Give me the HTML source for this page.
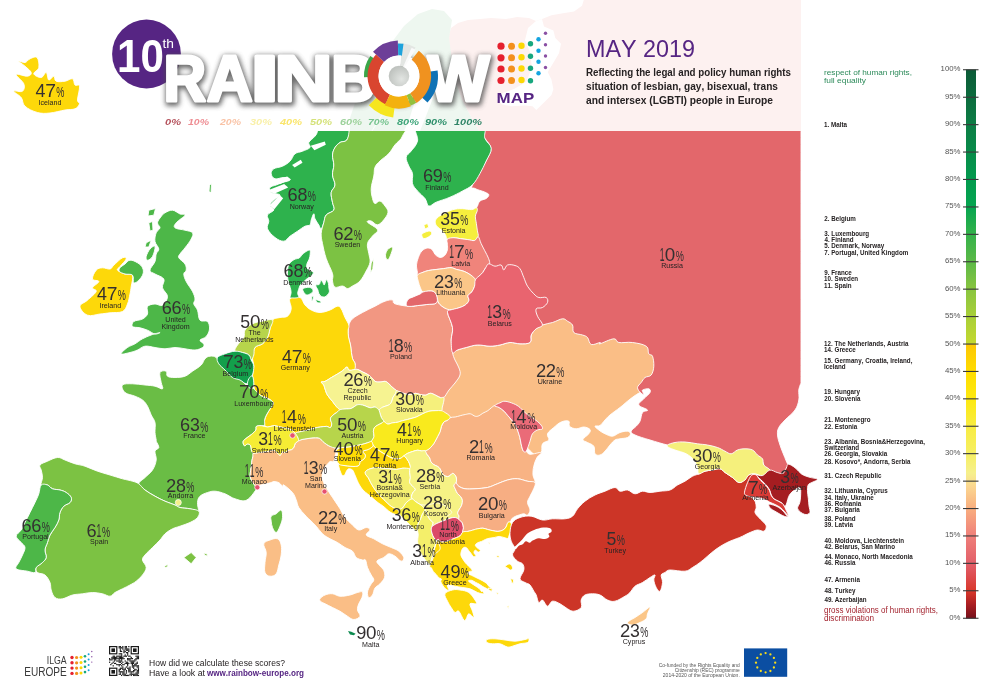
<!DOCTYPE html>
<html lang="en"><head><meta charset="utf-8"><title>Rainbow Europe Map May 2019</title>
<style>html,body{margin:0;padding:0;background:#fff}svg{display:block}text{font-family:"Liberation Sans", sans-serif;font-kerning:none}</style>
</head><body>
<svg width="988" height="695" viewBox="0 0 988 695">
<defs>
<linearGradient id="sc" x1="0" y1="0" x2="0" y2="1">
<stop offset="0" stop-color="#0c5a37"/>
<stop offset="0.1" stop-color="#0d7d45"/>
<stop offset="0.2" stop-color="#039a4e"/>
<stop offset="0.25" stop-color="#06a550"/>
<stop offset="0.3" stop-color="#34b24a"/>
<stop offset="0.35" stop-color="#5cb947"/>
<stop offset="0.4" stop-color="#89c540"/>
<stop offset="0.45" stop-color="#a9cf38"/>
<stop offset="0.499" stop-color="#c3d82f"/>
<stop offset="0.501" stop-color="#fcc705"/>
<stop offset="0.55" stop-color="#ffdc00"/>
<stop offset="0.6" stop-color="#fde910"/>
<stop offset="0.65" stop-color="#f8ec42"/>
<stop offset="0.7" stop-color="#f6ef63"/>
<stop offset="0.735" stop-color="#f6f08c"/>
<stop offset="0.76" stop-color="#fbd690"/>
<stop offset="0.8" stop-color="#f9ae7f"/>
<stop offset="0.85" stop-color="#ef7f7a"/>
<stop offset="0.9" stop-color="#e25f69"/>
<stop offset="0.925" stop-color="#dd4a4c"/>
<stop offset="0.95" stop-color="#d9382b"/>
<stop offset="0.975" stop-color="#a91e22"/>
<stop offset="1" stop-color="#74101a"/>
</linearGradient>
<radialGradient id="hole" cx="0.62" cy="0.65" r="0.75"><stop offset="0" stop-color="#e2e5e2"/><stop offset="1" stop-color="#b9bdb9"/></radialGradient>
<filter id="sh" x="-10%" y="-30%" width="120%" height="160%"><feGaussianBlur stdDeviation="2.6"/></filter>
<clipPath id="mapclip"><path d="M0 0 H120 V131 H988 V695 H0 Z"/></clipPath>
</defs>
<rect x="447" y="0" width="354" height="131" fill="#fdf1f0"/>
<path d="M447 0 L583.8 0 L582 5.7 L574 11.4 L563 13.3 L551.5 15.2 L542 19 L536 21 L529 18 L517 17 L506 19 L491 18 L480 19 L468 20 L458 23 L451 28 L448 38 L452 60 L455 80 L462 100 L470 115 L479 131 L447 131 Z" fill="#ffffff"/>
<path d="M542 19 L544 26.6 L553.4 30.4 L555.3 38 L561 43.7 L559 53.2 L553.4 62.7 L547.7 72 L551.5 79.7 L553.4 89.2 L551.5 95 L544 102.5 L536.3 110 L532.5 106.3 L525 105.4 L511.6 106.3 L502 104.4 L496.5 98.7 L503 93 L514 89 L526 82 L532 68 L530 52 L525 40 L528 28 L536 21 Z" fill="#ffffff"/>
<path d="M350 131 L350 118 L356 100 L368 82 L380 62 L392 42 L404 26 L418 14 L432 9 L444 11 L452 20 L449 38 L452 60 L455 80 L462 100 L470 115 L479 131 Z" fill="#eef7f0"/>
<path d="M404 131 L409 120 L414 104 L416 86 L419 66 L426 54 L434 60 L437 78 L433 98 L426 116 L420 131 Z" fill="#ffffff"/>
<path d="M392 42 L400 50 L404 66 L400 84 L392 100 L380 118 L372 131" fill="none" stroke="#ffffff" stroke-width="0.8"/>
<g clip-path="url(#mapclip)" stroke="#ffffff" stroke-width="0.9" stroke-linejoin="round">
<path d="M479 120 C479.0 120.0 801.0 120.0 801 120 C801.0 120.0 801.0 383.0 801 383 C801.0 383.0 799.2 386.9 798.8 390 C798.4 393.1 799.5 396.3 798.8 400 C798.1 403.7 797.5 406.3 795 410 C792.5 413.7 788.0 416.8 785 420 C782.0 423.2 780.2 424.8 778.8 427.5 C777.4 430.2 777.3 431.8 777.5 435 C777.7 438.2 778.8 441.3 780 445 C781.2 448.7 782.4 451.6 783.8 455 C785.2 458.4 786.6 462.2 787.5 463.8 C788.4 465.4 788.8 462.6 788.75 463.75 C788.7 464.9 788.6 467.6 787 470 C785.4 472.4 783.1 475.9 780 477 C776.9 478.1 773.3 476.9 770 476 C766.7 475.1 763.1 473.5 762 472 C760.9 470.5 763.7 469.9 763.8 468 C763.9 466.1 763.7 463.6 762.5 461.8 C761.3 460.0 759.3 459.6 757.5 458 C755.7 456.4 754.8 454.1 752.5 453 C750.2 451.9 747.8 451.8 745 451.8 C742.2 451.8 740.0 452.1 737.5 453 C735.0 453.9 733.5 456.6 731.2 456.8 C728.9 457.0 727.5 455.4 725 454.2 C722.5 453.0 720.7 451.6 717.5 450.5 C714.3 449.4 711.2 448.7 707.5 448 C703.8 447.3 701.6 447.4 697.5 446.8 C693.4 446.2 689.1 445.2 685 445 C680.9 444.8 678.2 445.5 675 445.5 C671.8 445.5 672.1 446.0 667.5 445 C662.9 444.0 656.0 441.8 650 440 C644.0 438.2 638.4 436.6 635 435 C631.6 433.4 631.0 432.8 631.2 431.2 C631.4 429.6 634.6 428.0 636.2 426.2 C637.8 424.4 638.8 423.7 640 421.2 C641.2 418.7 641.1 414.6 642.5 412.5 C643.9 410.4 648.2 411.4 647.5 410 C646.8 408.6 639.5 407.1 638.8 405 C638.1 402.9 641.7 401.1 643.8 398.8 C645.9 396.5 649.1 394.3 650 392.5 C650.9 390.7 650.2 389.3 648.8 388.8 C647.4 388.3 644.1 389.3 642.5 390 C640.9 390.7 647.8 398.0 640 392.5 C632.2 387.0 618.3 371.5 600 360 C581.7 348.5 558.3 341.0 540 330 C521.7 319.0 512.8 309.2 500 300 C487.2 290.8 475.5 291.0 470 280 C464.5 269.0 468.9 252.9 470 240 C471.1 227.1 474.8 216.0 476.2 209.8 C477.6 203.6 476.8 207.6 477.5 206 C478.2 204.4 478.4 202.4 480 201 C481.6 199.6 484.6 199.6 486.2 198.5 C487.8 197.4 489.0 196.0 488.8 194.8 C488.6 193.6 487.5 193.4 485 192.2 C482.5 191.0 477.3 189.9 475 188.5 C472.7 187.1 470.5 189.8 472.5 184.8 C474.5 179.8 482.6 167.7 486 161 C489.4 154.3 491.2 152.6 491 148.5 C490.8 144.4 486.8 141.7 485 138.5 C483.2 135.3 482.1 134.4 481 131 C479.9 127.6 479.0 120.0 479 120 Z" fill="#e3676b"/>
<path d="M452.5 352.5 C453.9 350.7 455.0 350.9 457.5 350 C460.0 349.1 462.5 348.4 466.2 347.5 C469.9 346.6 473.1 345.2 477.5 345 C481.9 344.8 485.9 346.2 490 346.2 C494.1 346.2 496.3 345.7 500 345 C503.7 344.3 506.3 342.7 510 342.5 C513.7 342.3 516.3 343.8 520 343.8 C523.7 343.8 527.9 344.1 530 342.5 C532.1 340.9 530.1 337.5 531.2 335 C532.3 332.5 534.1 330.6 536.2 328.8 C538.3 327.0 539.5 326.2 542.5 325 C545.5 323.8 548.8 323.6 552.5 322.5 C556.2 321.4 559.8 319.0 562.5 318.8 C565.2 318.6 565.7 320.1 567.5 321.2 C569.3 322.3 571.3 322.9 572.5 325 C573.7 327.1 572.0 330.7 573.8 332.5 C575.6 334.3 580.0 334.1 582.5 335 C585.0 335.9 585.9 335.8 587.5 337.5 C589.1 339.2 588.9 343.6 591.2 344.5 C593.5 345.4 598.4 342.6 600 342.5 C601.6 342.4 597.5 344.5 600 343.8 C602.5 343.1 610.4 339.0 613.8 338.8 C617.2 338.6 615.4 341.8 618.8 342.5 C622.2 343.2 627.5 341.8 632.5 342.5 C637.5 343.2 643.2 344.1 646.2 346.2 C649.2 348.3 647.6 352.0 648.8 353.8 C650.0 355.6 651.6 353.9 652.5 356.2 C653.4 358.5 654.0 362.8 653.8 366.2 C653.6 369.6 652.8 372.9 651.2 375 C649.6 377.1 646.8 376.1 645 377.5 C643.2 378.9 642.6 380.7 641.2 382.5 C639.8 384.3 637.7 385.7 637.5 387.5 C637.3 389.3 639.5 391.6 640 392.5 C640.5 393.4 640.9 391.9 640 392.5 C639.1 393.1 637.3 393.9 635 395.5 C632.7 397.1 630.2 399.0 627.5 401.2 C624.8 403.4 623.2 405.0 620 407.5 C616.8 410.0 612.8 412.7 610 415 C607.2 417.3 606.8 418.1 605 420 C603.2 421.9 601.8 424.4 600 425.5 C598.2 426.6 595.2 425.4 595 426.2 C594.8 427.0 597.0 428.6 598.8 430 C600.6 431.4 602.5 432.7 605 433.8 C607.5 434.9 609.8 436.4 612.5 436.2 C615.2 436.0 617.2 433.4 620 432.5 C622.8 431.6 625.6 431.0 627.5 431.2 C629.4 431.4 630.5 432.6 630.5 433.8 C630.5 435.0 629.4 436.6 627.5 437.5 C625.6 438.4 622.3 438.3 620 438.8 C617.7 439.3 616.8 438.9 615 440 C613.2 441.1 611.8 442.9 610 445 C608.2 447.1 606.8 449.4 605 451.2 C603.2 453.0 601.8 454.5 600 455 C598.2 455.5 596.1 455.4 595 453.8 C593.9 452.2 595.2 448.3 593.8 446.2 C592.4 444.1 589.5 443.7 587.5 442.5 C585.5 441.3 582.8 441.1 583 439.5 C583.2 437.9 587.5 435.6 588.8 433.8 C590.1 432.0 590.9 430.7 590 429.5 C589.1 428.3 586.3 427.1 583.8 427 C581.3 426.9 578.8 428.9 576.2 428.8 C573.6 428.7 570.9 427.6 569.5 426.2 C568.1 424.8 570.3 422.0 568.8 421.2 C567.3 420.4 564.0 420.8 561.2 422 C558.5 423.2 556.3 425.3 553.8 427.5 C551.3 429.7 548.4 431.5 547.5 433.8 C546.6 436.1 549.7 438.2 548.8 440 C547.9 441.8 543.9 441.5 542.5 443.8 C541.1 446.1 542.6 450.4 541.2 452.5 C539.8 454.6 538.9 457.3 535 455 C531.1 452.7 526.4 446.4 520 440 C513.6 433.6 509.2 422.8 500 420 C490.8 417.2 479.5 425.0 470 425 C460.5 425.0 453.5 423.7 448 420 C442.5 416.3 440.2 410.5 440 405 C439.8 399.5 445.2 395.5 447 390 C448.8 384.5 449.4 380.5 450 375 C450.6 369.5 449.5 364.1 450 360 C450.5 355.9 451.1 354.3 452.5 352.5 Z" fill="#fabe86"/>
<path d="M450.2 417.6 C451.6 417.0 453.4 417.3 455.2 417 C457.0 416.7 458.3 416.2 460.2 415.7 C462.1 415.2 463.4 414.8 465.3 414.5 C467.2 414.2 468.5 413.5 470.3 413.8 C472.1 414.1 473.7 416.0 475.3 416.3 C476.9 416.6 477.7 416.3 479.1 415.7 C480.5 415.1 481.2 414.1 482.8 413.2 C484.4 412.3 486.2 411.7 487.8 410.7 C489.4 409.7 490.3 408.4 491.6 407.5 C492.9 406.6 493.4 405.7 494.8 405.7 C496.2 405.7 497.4 406.5 499.1 407.5 C500.8 408.5 502.6 409.8 504.2 411.3 C505.8 412.8 506.5 414.1 507.9 415.7 C509.3 417.3 510.3 418.4 511.7 420.1 C513.1 421.8 514.3 423.0 515.5 425.1 C516.7 427.2 517.2 429.1 518 431.4 C518.8 433.7 519.3 435.4 519.9 437.7 C520.5 440.0 520.6 441.8 521.1 443.9 C521.6 446.0 521.9 447.6 522.4 449 C522.9 450.4 523.2 451.1 523.9 451.5 C524.6 451.9 525.1 450.7 526.25 451.25 C527.4 451.8 527.2 454.0 530 454.25 C532.8 454.5 540.0 451.9 541.25 452.5 C542.5 453.1 538.4 455.0 537 457.5 C535.6 460.0 534.5 463.0 533.75 466.25 C533.0 469.5 532.8 472.0 533 475 C533.2 478.0 536.0 481.4 535 482.5 C534.0 483.6 530.7 481.9 527.5 481.25 C524.3 480.6 521.2 479.0 517.5 478.75 C513.8 478.5 511.2 479.1 507.5 480 C503.8 480.9 501.2 482.4 497.5 483.75 C493.8 485.1 491.6 486.6 487.5 487.5 C483.4 488.4 479.1 488.5 475 488.75 C470.9 489.0 468.0 489.2 465 488.75 C462.0 488.3 460.4 487.3 458.75 486.25 C457.1 485.2 456.4 484.3 456 483 C455.6 481.7 456.6 480.5 456.5 479.1 C456.4 477.7 455.9 476.3 455.2 475.3 C454.5 474.3 453.6 473.4 452.7 473.4 C451.8 473.4 451.1 474.7 450.2 475.3 C449.3 475.9 448.9 476.6 447.7 476.6 C446.5 476.6 445.1 476.1 443.9 475.3 C442.7 474.5 442.1 473.4 441.4 472.2 C440.7 471.0 440.9 470.0 440.2 469 C439.5 468.0 438.9 467.3 437.7 466.5 C436.5 465.7 435.2 465.6 433.9 464.7 C432.6 463.8 431.5 462.8 430.7 461.5 C429.9 460.2 430.2 459.0 429.5 457.7 C428.8 456.4 427.8 455.8 427 454.6 C426.2 453.4 424.8 451.9 425.1 450.9 C425.4 449.9 427.5 450.0 428.9 449 C430.3 448.0 431.5 446.6 432.6 445.2 C433.7 443.8 434.2 443.0 435.1 441.4 C436.0 439.8 436.8 438.2 437.7 436.4 C438.6 434.6 439.5 433.2 440.2 431.4 C440.9 429.6 440.7 428.1 441.4 426.4 C442.1 424.7 442.7 423.2 443.9 422 C445.1 420.8 446.5 420.9 447.7 420.1 C448.9 419.3 448.8 418.2 450.2 417.6 Z" fill="#f8b384"/>
<path d="M348.8 325 C349.6 322.9 350.0 321.1 352.5 318.8 C355.0 316.5 358.4 314.8 362.5 312.5 C366.6 310.2 370.9 308.3 375 306.2 C379.1 304.1 381.8 302.3 385 301.2 C388.2 300.1 390.7 299.5 392.5 300 C394.3 300.5 391.8 302.6 395 303.8 C398.2 305.0 405.8 306.1 409.9 306.4 C414.0 306.7 414.3 305.9 417.4 305.6 C420.5 305.3 423.4 304.9 426.8 304.5 C430.2 304.1 434.2 304.5 436.1 303.2 C438.0 301.9 436.6 297.6 437.1 297.6 C437.6 297.6 437.5 301.3 438.9 303.2 C440.3 305.1 442.4 306.7 444.6 307.9 C446.8 309.1 450.6 309.0 451.1 309.8 C451.6 310.6 447.2 309.3 447.5 312.5 C447.8 315.7 451.8 322.5 452.5 327.5 C453.2 332.5 451.2 335.4 451.2 340 C451.2 344.6 451.8 348.8 452.5 352.5 C453.2 356.2 453.8 357.2 455 360 C456.2 362.8 458.1 365.2 459 368 C459.9 370.8 460.7 372.2 460 375 C459.3 377.8 457.0 380.2 455 383 C453.0 385.8 451.0 387.3 449 390 C447.0 392.7 445.5 396.1 443.9 397.5 C442.3 398.9 442.0 398.1 440.5 397.7 C439.0 397.3 437.4 396.0 435.5 395.2 C433.6 394.4 432.3 393.3 430.4 393.3 C428.5 393.3 427.2 395.0 425.4 395.2 C423.6 395.4 422.2 394.9 420.4 394.6 C418.6 394.3 417.2 393.3 415.4 393.3 C413.6 393.3 412.3 394.5 410.4 394.6 C408.5 394.7 407.2 394.4 405.3 393.9 C403.4 393.4 401.9 392.7 400.3 392.1 C398.7 391.5 398.0 391.6 396.6 390.8 C395.2 390.0 394.2 389.0 392.8 387.7 C391.4 386.4 390.4 385.1 389 383.9 C387.6 382.7 386.9 381.7 385.3 381.4 C383.7 381.1 382.1 382.0 380.2 382 C378.3 382.0 376.8 382.2 375.2 381.4 C373.6 380.6 372.9 378.9 371.5 377.6 C370.1 376.3 369.3 375.5 367.7 374.5 C366.1 373.5 364.5 372.9 362.7 372 C360.9 371.1 359.2 370.0 357.7 369.5 C356.2 369.0 355.0 370.5 354.5 369.5 C354.0 368.5 355.4 365.8 355.1 363.8 C354.8 361.8 353.3 360.9 352.6 358.8 C351.9 356.7 351.8 355.0 351.4 352.5 C351.0 350.0 351.0 347.8 350.5 345 C350.0 342.2 348.9 339.8 348.5 337 C348.1 334.2 348.1 332.2 348.2 330 C348.3 327.8 348.0 327.1 348.8 325 Z" fill="#f29782"/>
<path d="M290 298.8 C291.6 296.7 297.2 296.4 300 297.5 C302.8 298.6 302.9 302.7 305 305 C307.1 307.3 308.4 308.6 311.2 310 C313.9 311.4 316.6 312.5 320 312.5 C323.4 312.5 326.8 311.2 330 310 C333.2 308.8 335.4 306.4 337.5 306.2 C339.6 306.0 339.8 306.7 341.2 308.8 C342.6 310.9 343.6 314.5 345 317.5 C346.4 320.5 348.2 322.7 348.8 325 C349.4 327.3 348.3 327.8 348.2 330 C348.1 332.2 348.1 334.2 348.5 337 C348.9 339.8 350.0 342.2 350.5 345 C351.0 347.8 351.0 350.0 351.4 352.5 C351.8 355.0 351.9 356.7 352.6 358.8 C353.3 360.9 354.8 361.8 355.1 363.8 C355.4 365.8 355.6 368.3 354.5 369.5 C353.4 370.7 350.3 370.6 348.9 370.1 C347.5 369.6 348.2 366.9 347 367 C345.8 367.1 344.3 369.4 342.6 370.7 C340.9 372.0 339.7 372.6 337.6 373.9 C335.5 375.2 333.6 376.2 331.3 377.6 C329.0 379.0 326.8 380.6 325 381.4 C323.2 382.2 321.5 381.3 321.3 382 C321.1 382.7 323.1 383.9 323.8 385.2 C324.5 386.5 324.3 387.1 325 388.9 C325.7 390.7 326.1 392.9 327.5 395.2 C328.9 397.5 331.0 399.4 332.6 401.5 C334.2 403.6 334.9 405.0 336.3 406.5 C337.7 408.0 340.0 408.5 340.1 409.6 C340.2 410.7 338.0 411.5 336.7 412.5 C335.4 413.5 334.2 413.9 333 415.1 C331.8 416.3 330.6 417.2 330.4 418.8 C330.2 420.4 331.7 422.2 331.7 423.8 C331.7 425.4 331.3 427.1 330.4 427.6 C329.5 428.1 328.5 426.5 326.7 426.4 C324.9 426.3 322.7 426.7 320.4 427 C318.1 427.3 316.4 427.6 314.1 428.2 C311.8 428.8 310.1 429.5 307.8 430.1 C305.5 430.7 303.9 430.8 301.6 431.4 C299.3 432.0 297.2 433.5 295.3 433.3 C293.4 433.1 293.1 431.0 291.5 430.1 C289.9 429.2 288.6 428.8 286.5 428.2 C284.4 427.6 282.5 427.5 280.2 427 C277.9 426.5 276.3 425.7 274 425.7 C271.7 425.7 269.4 427.1 267.7 427 C266.0 426.9 265.2 426.4 264.6 425.1 C264.0 423.8 264.3 421.9 264.6 420.1 C264.9 418.3 265.4 417.2 266.4 415.1 C267.4 413.0 269.0 410.7 270.2 408.8 C271.4 406.9 272.3 406.3 272.7 405 C273.1 403.7 273.7 402.9 272.5 401.5 C271.3 400.1 269.2 398.9 266.2 397.5 C263.2 396.1 258.5 396.1 256.2 393.8 C253.9 391.5 254.5 388.4 253.8 385 C253.1 381.6 252.5 378.4 252.5 375 C252.5 371.6 253.8 369.4 253.8 366.2 C253.8 363.0 252.3 360.9 252.5 357.5 C252.7 354.1 253.2 350.0 255 347.5 C256.8 345.0 260.2 345.6 262.5 343.8 C264.8 342.0 266.1 340.2 267.5 337.5 C268.9 334.8 269.1 332.0 270 328.8 C270.9 325.6 270.7 322.1 272.5 320 C274.3 317.9 277.2 318.2 280 317.5 C282.8 316.8 285.4 317.8 287.5 316.2 C289.6 314.6 290.7 312.0 291.2 308.8 C291.7 305.6 288.4 300.9 290 298.8 Z" fill="#fdd80a"/>
<path d="M205 358.8 C206.6 357.2 207.9 356.4 210 356.2 C212.1 356.0 214.4 356.1 216.2 357.5 C218.0 358.9 218.4 361.5 220 363.8 C221.6 366.1 222.7 367.7 225 370 C227.3 372.3 229.8 374.6 232.5 376.2 C235.2 377.8 237.5 377.2 240 378.8 C242.5 380.4 243.9 383.4 246.2 385 C248.5 386.6 250.0 385.7 252.5 387.5 C255.0 389.3 257.2 392.9 260 395 C262.8 397.1 265.2 397.6 267.5 398.8 C269.8 400.0 271.5 400.4 272.5 401.5 C273.5 402.6 273.1 403.7 272.7 405 C272.3 406.3 271.4 406.9 270.2 408.8 C269.0 410.7 267.4 413.0 266.4 415.1 C265.4 417.2 264.9 418.3 264.6 420.1 C264.3 421.9 265.2 424.1 264.6 425.1 C264.0 426.1 262.9 425.5 261.4 425.7 C259.9 425.9 257.4 425.6 256.4 426.4 C255.4 427.2 256.7 428.6 255.8 430.1 C254.9 431.6 253.0 433.1 251.4 434.5 C249.8 435.9 248.5 436.4 247 437.7 C245.5 439.0 243.7 439.9 243.2 441.4 C242.7 442.9 243.7 445.3 244.5 445.8 C245.3 446.3 246.5 443.9 247.6 443.9 C248.7 443.9 250.0 444.6 250.7 445.8 C251.4 447.0 250.9 448.8 251.4 450.2 C251.9 451.6 253.0 452.1 253.3 453.3 C253.6 454.5 253.1 455.2 252.9 456.5 C252.7 457.8 252.3 458.6 252 460.2 C251.7 461.8 251.6 463.4 251.4 465.3 C251.2 467.2 250.9 468.5 250.7 470.3 C250.5 472.1 250.0 473.5 250.1 475.3 C250.2 477.1 250.7 478.7 251.4 480.3 C252.1 481.9 253.0 482.9 253.9 484.1 C254.8 485.3 255.7 486.0 256.4 486.6 C257.1 487.2 259.3 485.0 257.5 487.5 C255.7 490.0 250.9 497.9 246.8 500 C242.7 502.1 239.0 499.9 235 498.8 C231.0 497.7 228.7 495.2 225 493.8 C221.3 492.4 218.2 491.4 215 491.2 C211.8 491.0 210.2 491.6 207.5 492.5 C204.8 493.4 201.8 494.4 200 496.2 C198.2 498.0 197.7 499.8 197.5 502.5 C197.3 505.2 198.6 509.6 198.8 511.2 C199.0 512.8 200.4 511.6 198.8 511.2 C197.2 510.8 193.4 509.5 190 508.8 C186.6 508.1 182.8 508.2 180 507.5 C177.2 506.8 177.8 506.2 175 505 C172.2 503.8 168.7 502.8 165 501.2 C161.3 499.6 158.7 498.3 155 496.2 C151.3 494.1 148.0 492.3 145 490 C142.0 487.7 138.8 486.1 138.8 483.8 C138.8 481.5 142.5 480.0 145 477.5 C147.5 475.0 150.4 473.2 152.5 470 C154.6 466.8 155.7 463.4 156.2 460 C156.7 456.6 154.5 453.5 155 451.2 C155.5 448.9 158.6 449.3 158.8 447.5 C159.0 445.7 156.7 442.6 156.2 441.2 C155.7 439.8 156.4 441.6 156.2 440 C156.0 438.4 155.2 435.7 155 432.5 C154.8 429.3 155.7 425.7 155 422.5 C154.3 419.3 152.6 418.0 151.2 415 C149.8 412.0 149.1 408.9 147.5 406.2 C145.9 403.4 144.8 401.8 142.5 400 C140.2 398.2 138.2 397.6 135 396.2 C131.8 394.8 127.3 394.6 125 392.5 C122.7 390.4 121.1 386.6 122.5 385 C123.9 383.4 128.4 383.8 132.5 383.8 C136.6 383.8 140.9 384.6 145 385 C149.1 385.4 151.8 385.5 155 386.2 C158.2 386.9 161.4 389.5 162.5 388.8 C163.6 388.1 161.7 385.5 161.2 382.5 C160.7 379.5 159.1 374.6 160 372.5 C160.9 370.4 164.8 370.5 166.2 371.2 C167.6 371.9 165.9 375.0 167.5 376.2 C169.1 377.4 171.8 377.5 175 377.5 C178.2 377.5 181.8 377.4 185 376.2 C188.2 375.0 189.5 373.3 192.5 371.2 C195.5 369.1 198.9 367.3 201.2 365 C203.5 362.7 203.4 360.4 205 358.8 Z" fill="#6abd45"/>
<path d="M256.4 486.6 C257.8 486.7 258.9 485.4 261.4 484.7 C263.9 484.0 267.9 483.4 270.2 482.8 C272.5 482.2 272.4 481.6 274 481.6 C275.6 481.6 277.4 481.9 279 482.8 C280.6 483.7 281.9 486.2 282.8 486.6 C283.7 487.0 282.0 483.9 283.8 485 C285.6 486.1 290.2 489.8 292.5 492.5 C294.8 495.2 295.0 497.2 296.2 500 C297.4 502.8 297.2 504.8 298.8 507.5 C300.4 510.2 302.9 512.7 305 515 C307.1 517.3 307.9 517.9 310 520 C312.1 522.1 313.9 523.7 316.2 526.2 C318.5 528.7 320.0 531.5 322.5 533.8 C325.0 536.1 327.2 537.2 330 538.8 C332.8 540.4 334.8 540.9 337.5 542.5 C340.2 544.1 342.2 545.9 345 547.5 C347.8 549.1 350.4 549.4 352.5 551.2 C354.6 553.0 354.4 555.9 356.2 557.5 C358.0 559.1 360.8 559.5 362.5 560 C364.2 560.5 364.6 558.6 365.5 560 C366.4 561.4 366.5 564.8 367.5 567.5 C368.5 570.2 370.0 572.7 371.2 575 C372.4 577.3 373.9 578.2 373.8 580 C373.7 581.8 371.7 582.8 370.5 585 C369.3 587.2 367.8 589.7 367.5 592 C367.2 594.3 367.9 597.0 368.8 597.5 C369.7 598.0 371.4 596.7 372.5 595 C373.6 593.3 373.6 590.1 375 588 C376.4 585.9 378.3 585.7 380 583.8 C381.7 581.9 383.8 579.9 384.5 577.5 C385.2 575.1 384.7 572.7 383.8 570.5 C382.9 568.3 380.7 567.2 379.5 565.5 C378.3 563.8 376.2 562.5 377 561 C377.8 559.5 381.6 558.8 383.8 557.5 C386.0 556.2 386.7 554.0 388.8 553.8 C390.9 553.6 392.7 554.8 395 556.2 C397.3 557.6 399.6 561.0 401.2 561.2 C402.8 561.4 404.2 559.3 403.8 557.5 C403.4 555.7 401.1 553.0 398.8 551.2 C396.5 549.4 394.2 548.9 391.2 547.5 C388.2 546.1 385.7 545.4 382.5 543.8 C379.3 542.2 376.8 540.4 373.8 538.8 C370.8 537.2 366.9 536.6 366.2 535 C365.5 533.4 370.0 531.4 370 530 C370.0 528.6 368.3 527.5 366.2 527.5 C364.1 527.5 361.3 530.5 358.8 530 C356.3 529.5 355.0 527.3 352.5 525 C350.0 522.7 347.3 520.5 345 517.5 C342.7 514.5 341.8 511.8 340 508.8 C338.2 505.8 336.8 503.9 335 501.2 C333.2 498.4 331.6 496.3 330 493.8 C328.4 491.3 327.1 488.7 326.2 487.5 C325.3 486.3 325.5 488.1 325.1 487.2 C324.7 486.3 324.4 484.5 323.8 482.8 C323.2 481.1 322.2 479.6 322 477.8 C321.8 476.0 322.1 474.6 322.6 472.8 C323.1 471.0 323.6 469.4 324.5 467.8 C325.4 466.2 326.6 465.2 327.6 464 C328.6 462.8 328.9 462.1 330.1 461.5 C331.3 460.9 332.7 463.0 333.9 460.9 C335.1 458.8 335.7 451.5 336.4 450.2 C337.1 448.9 337.7 452.4 337.7 454 C337.7 455.6 336.2 457.2 336.4 459 C336.6 460.8 339.2 466.0 338.9 464 C338.6 462.0 336.6 451.2 335 448 C333.4 444.8 331.9 447.1 330.4 446.5 C328.9 445.9 328.1 445.4 326.7 444.5 C325.3 443.6 324.1 442.5 322.8 441.4 C321.5 440.3 321.1 439.0 319.5 438.3 C317.9 437.6 316.1 437.8 314 437.8 C311.9 437.8 310.2 438.2 308 438.5 C305.8 438.8 303.8 439.1 302 439.5 C300.2 439.9 299.6 440.1 298.4 440.8 C297.2 441.5 296.1 442.1 295.3 443.3 C294.5 444.5 294.7 445.9 294 447.1 C293.3 448.3 292.6 449.0 291.5 449.6 C290.4 450.2 288.9 449.6 287.8 450.2 C286.7 450.8 286.2 452.5 285.3 452.7 C284.4 452.9 283.7 451.0 282.8 451.5 C281.9 452.0 281.2 455.0 280.2 455.2 C279.2 455.4 278.2 453.6 277.1 452.7 C276.0 451.8 275.3 450.5 274 450.2 C272.7 449.9 271.6 450.6 270.2 450.8 C268.8 451.0 268.0 451.3 266.4 451.5 C264.8 451.7 263.0 451.9 261.4 452.1 C259.8 452.3 259.2 452.5 257.7 452.7 C256.2 452.9 254.2 452.6 253.3 453.3 C252.4 454.0 253.1 455.2 252.9 456.5 C252.7 457.8 252.3 458.6 252 460.2 C251.7 461.8 251.6 463.4 251.4 465.3 C251.2 467.2 250.9 468.5 250.7 470.3 C250.5 472.1 250.0 473.5 250.1 475.3 C250.2 477.1 250.7 478.7 251.4 480.3 C252.1 481.9 253.0 482.9 253.9 484.1 C254.8 485.3 255.0 486.5 256.4 486.6 Z" fill="#fabe86"/>
<path d="M18.8 61.2 C18.8 60.5 22.9 62.9 25 62.5 C27.1 62.1 27.8 59.7 30 58.8 C32.2 57.9 35.4 55.9 37 57.5 C38.6 59.1 39.4 64.5 38.8 67.5 C38.2 70.5 33.4 72.0 33.8 73.8 C34.2 75.6 38.9 77.7 41.2 77.5 C43.5 77.3 44.8 72.0 46.2 72.5 C47.6 73.0 47.4 79.3 48.8 80 C50.2 80.7 52.4 76.0 53.8 76.2 C55.2 76.4 54.1 80.3 56.2 81.2 C58.3 82.1 62.0 81.6 65 81.2 C68.0 80.8 70.7 78.1 72.5 78.8 C74.3 79.5 73.7 83.6 75 85 C76.3 86.4 79.0 83.5 79.5 86.2 C80.0 89.0 77.5 96.8 77.5 100 C77.5 103.2 80.0 102.2 79.5 103.8 C79.0 105.4 77.7 107.7 75 108.8 C72.3 109.9 69.6 109.2 65 110 C60.4 110.8 55.0 112.5 50 113 C45.0 113.5 42.1 113.7 37.5 112.5 C32.9 111.3 28.0 109.0 25 106.2 C22.0 103.5 23.3 100.2 21.2 97.5 C19.1 94.8 13.6 92.4 13.8 91.2 C14.0 90.0 20.7 92.6 22.5 91.2 C24.3 89.8 25.0 86.9 23.8 83.8 C22.6 80.7 15.5 75.9 16.2 74.5 C16.9 73.1 24.8 76.6 27.5 76.2 C30.2 75.8 31.7 74.3 31.2 72.5 C30.7 70.7 27.3 68.3 25 66.2 C22.7 64.1 18.8 61.9 18.8 61.2 Z" fill="#fdd80a"/>
<path d="M113.8 265.2 C116.1 263.1 120.2 258.9 122.5 257.8 C124.8 256.7 126.7 257.4 126.2 259 C125.7 260.6 121.6 264.4 120 266.5 C118.4 268.6 116.6 268.8 117.5 270.2 C118.4 271.6 122.2 273.1 125 274 C127.8 274.9 131.4 272.9 132.5 275.2 C133.6 277.5 131.7 283.1 131.2 286.5 C130.7 289.9 130.7 290.8 130 294 C129.3 297.2 128.9 300.8 127.5 304 C126.1 307.2 125.7 309.9 122.5 311.5 C119.3 313.1 114.1 312.3 110 312.8 C105.9 313.3 104.1 313.6 100 314 C95.9 314.4 91.2 316.6 87.5 315.2 C83.8 313.8 80.0 309.2 80 306.5 C80.0 303.8 84.5 302.9 87.5 300.2 C90.5 297.4 95.3 293.8 96.2 291.5 C97.1 289.2 92.0 289.6 92.5 287.8 C93.0 286.0 98.8 283.1 98.8 281.5 C98.8 279.9 93.0 281.1 92.5 279 C92.0 276.9 94.4 272.3 96.2 270.2 C98.0 268.1 100.0 268.0 102.5 267.8 C105.0 267.6 107.9 269.5 110 269 C112.1 268.5 111.5 267.3 113.8 265.2 Z" fill="#fdd80a"/>
<path d="M120 267.8 C121.0 266.4 123.2 265.4 125 264 C126.8 262.6 127.7 260.4 130 260.2 C132.3 260.0 135.2 261.4 137.5 262.8 C139.8 264.2 141.5 265.7 142.5 267.8 C143.5 269.9 143.7 271.7 143 274 C142.3 276.3 140.5 278.6 138.8 280.2 C137.1 281.8 135.0 283.7 133.8 282.8 C132.6 281.9 134.1 276.8 132.5 275.2 C130.9 273.6 127.4 274.7 125 274 C122.6 273.3 120.4 272.6 119.5 271.5 C118.6 270.4 119.0 269.2 120 267.8 Z" fill="#4db748"/>
<path d="M165 212.8 C167.1 211.6 169.8 210.0 172.5 210.2 C175.2 210.4 177.7 213.1 180 214 C182.3 214.9 185.7 213.6 185 215.2 C184.3 216.8 178.0 220.5 176.2 222.8 C174.4 225.1 173.4 226.4 175 227.8 C176.6 229.2 181.8 229.3 185 230.2 C188.2 231.1 191.4 231.2 192.5 232.8 C193.6 234.4 192.6 236.2 191.2 239 C189.8 241.8 187.1 245.1 185 247.8 C182.9 250.6 181.1 252.2 180 254 C178.9 255.8 177.9 256.0 178.8 257.8 C179.7 259.6 183.6 261.7 185 264 C186.4 266.3 186.4 268.4 186.2 270.2 C186.0 272.0 183.8 271.9 183.8 274 C183.8 276.1 184.6 278.3 186.2 281.5 C187.8 284.7 190.9 288.3 192.5 291.5 C194.1 294.7 194.8 296.7 195 299 C195.2 301.3 193.3 301.9 193.8 304 C194.3 306.1 196.4 307.2 197.5 310.2 C198.6 313.2 198.2 318.1 200 320.2 C201.8 322.3 205.8 319.9 207.5 321.5 C209.2 323.1 209.7 326.2 209.5 329 C209.3 331.8 207.9 334.4 206.2 336.5 C204.5 338.6 200.4 338.8 200 340.2 C199.6 341.6 203.3 342.7 203.8 344 C204.3 345.3 204.1 346.4 202.5 347.5 C200.9 348.6 198.2 349.8 195 350 C191.8 350.2 188.7 349.3 185 348.8 C181.3 348.3 178.7 347.5 175 347.5 C171.3 347.5 168.7 348.8 165 348.8 C161.3 348.8 158.7 348.0 155 347.5 C151.3 347.0 148.2 345.7 145 346.2 C141.8 346.7 140.2 348.8 137.5 350 C134.8 351.2 133.0 351.8 130 352.5 C127.0 353.2 121.7 354.7 121.2 353.8 C120.7 352.9 125.0 349.3 127.5 347.5 C130.0 345.7 132.2 345.4 135 343.8 C137.8 342.2 139.5 340.4 142.5 338.8 C145.5 337.2 148.0 336.2 151.2 335 C154.4 333.8 159.3 332.7 160 332.5 C160.7 332.3 157.3 334.4 155 334 C152.7 333.6 150.2 331.3 147.5 330.2 C144.8 329.1 142.8 328.5 140 327.8 C137.2 327.1 133.6 327.7 132.5 326.5 C131.4 325.3 132.0 322.9 133.8 321.5 C135.6 320.1 140.0 320.4 142.5 319 C145.0 317.6 146.6 316.3 147.5 314 C148.4 311.7 146.1 308.3 147.5 306.5 C148.9 304.7 152.2 304.2 155 304 C157.8 303.8 160.2 306.6 162.5 305.2 C164.8 303.8 167.5 299.7 167.5 296.5 C167.5 293.3 163.2 291.0 162.5 287.8 C161.8 284.6 165.2 281.5 163.8 279 C162.4 276.5 157.5 275.6 155 274 C152.5 272.4 150.0 272.5 150 270.2 C150.0 267.9 153.9 264.5 155 261.5 C156.1 258.5 155.5 256.3 156.2 254 C156.9 251.7 159.0 251.3 158.8 249 C158.6 246.7 155.5 244.5 155 241.5 C154.5 238.5 155.3 235.3 156.2 232.8 C157.1 230.3 159.8 229.6 160 227.8 C160.2 226.0 157.3 224.9 157.5 222.8 C157.7 220.7 159.8 218.3 161.2 216.5 C162.6 214.7 162.9 214.0 165 212.8 Z" fill="#4db748"/>
<path d="M148.8 210.2 L155.5 208.5 L153.8 215.2 L148 216 Z" fill="#4db748"/>
<path d="M148.8 222.8 L152.5 221.5 L153 230.2 L150 231 Z" fill="#4db748"/>
<path d="M146.2 242.8 L151.2 240.2 L148.8 247 L145 247 Z" fill="#4db748"/>
<path d="M150 249 C151.6 247.2 154.5 245.1 155 246.5 C155.5 247.9 153.9 254.0 152.5 256.5 C151.1 259.0 148.7 260.2 147.5 260.2 C146.3 260.2 145.7 258.6 146.2 256.5 C146.7 254.4 148.4 250.8 150 249 Z" fill="#4db748"/>
<path d="M209.5 185.2 L211.5 183.5 L211 192.8 L209 191.5 Z" fill="#4db748"/>
<path d="M350 121.2 C355.3 124.4 349.3 134.9 347.5 138.8 C345.7 142.7 342.3 140.9 340 142.5 C337.7 144.1 336.4 145.2 335 147.5 C333.6 149.8 332.7 151.8 332.5 155 C332.3 158.2 333.8 161.3 333.8 165 C333.8 168.7 332.3 171.3 332.5 175 C332.7 178.7 335.2 181.8 335 185 C334.8 188.2 331.7 189.3 331.2 192.5 C330.7 195.7 332.0 199.3 332.5 202.5 C333.0 205.7 335.0 207.7 333.8 210 C332.6 212.3 328.0 212.7 326.2 215 C324.4 217.3 324.7 220.0 323.8 222.5 C322.9 225.0 322.1 228.3 321.2 228.8 C320.3 229.3 319.9 226.8 318.8 225 C317.7 223.2 315.9 220.9 315 218.8 C314.1 216.7 314.5 213.6 313.8 213.8 C313.1 214.0 311.9 217.9 311.2 220 C310.5 222.1 311.1 223.9 310 225 C308.9 226.1 307.3 225.1 305 226.2 C302.7 227.3 300.2 229.4 297.5 231.2 C294.8 233.0 292.5 234.4 290 236.2 C287.5 238.0 286.6 241.0 283.8 241.2 C281.1 241.4 278.0 239.8 275 237.5 C272.0 235.2 268.6 231.8 267.5 228.8 C266.4 225.8 268.8 223.7 268.8 221.2 C268.8 218.7 266.6 217.1 267.5 215 C268.4 212.9 273.3 211.8 273.8 210 C274.3 208.2 270.0 206.8 270 205 C270.0 203.2 272.0 201.8 273.8 200 C275.6 198.2 280.5 196.4 280 195 C279.5 193.6 273.0 193.9 271.2 192.5 C269.4 191.1 269.1 188.9 270 187.5 C270.9 186.1 273.9 185.9 276.2 185 C278.5 184.1 280.0 183.4 282.5 182.5 C285.0 181.6 289.8 180.9 290 180 C290.2 179.1 286.6 177.7 283.8 177.5 C281.1 177.3 277.3 179.5 275 178.8 C272.7 178.1 271.4 175.6 271.2 173.8 C271.0 172.0 271.7 170.2 273.8 168.8 C275.9 167.4 279.5 167.6 282.5 166.2 C285.5 164.8 287.7 163.5 290 161.2 C292.3 158.9 292.7 155.6 295 153.8 C297.3 152.0 299.8 152.4 302.5 151.2 C305.2 150.0 308.8 149.1 310 147.5 C311.2 145.9 307.9 144.6 308.8 142.5 C309.7 140.4 313.4 138.3 315 136.2 C316.6 134.1 316.8 133.9 317.5 131.2 C318.2 128.4 312.8 123.0 318.8 121.2 C324.8 119.4 344.7 118.0 350 121.2 Z" fill="#2eb24d"/>
<path d="M350 121 C359.9 121.0 394.2 118.2 403.8 121 C413.4 123.8 404.1 131.6 402.5 136 C400.9 140.4 397.5 141.6 395 144.8 C392.5 148.0 391.6 150.5 388.8 153.5 C386.1 156.5 382.5 158.5 380 161 C377.5 163.5 376.1 164.4 375 167.2 C373.9 169.9 374.5 172.1 373.8 176 C373.1 179.9 371.4 184.4 371.2 188.5 C371.0 192.6 371.8 195.8 372.5 198.5 C373.2 201.2 373.6 203.0 375 203.5 C376.4 204.0 378.2 200.5 380 201 C381.8 201.5 383.5 203.9 385 206 C386.5 208.1 388.2 209.7 388 212.2 C387.8 214.7 385.7 217.5 383.8 219.8 C381.9 222.1 379.8 224.6 377.5 224.8 C375.2 225.0 373.0 221.5 371.2 221 C369.4 220.5 366.3 220.6 367.5 222.2 C368.7 223.8 376.6 227.3 377.5 229.8 C378.4 232.3 374.3 233.5 372.5 236 C370.7 238.5 368.2 240.3 367.5 243.5 C366.8 246.7 368.3 250.1 368.8 253.5 C369.3 256.9 370.5 259.0 370 262.2 C369.5 265.4 368.0 267.6 366.2 271 C364.4 274.4 362.5 278.2 360 281 C357.5 283.8 354.8 284.6 352.5 286 C350.2 287.4 349.3 288.5 347.5 288.5 C345.7 288.5 344.8 286.2 342.5 286 C340.2 285.8 336.8 288.1 335 287.2 C333.2 286.3 333.0 283.5 332.5 281 C332.0 278.5 333.7 277.6 332.5 273.5 C331.3 269.4 328.0 264.0 326.2 258.5 C324.4 253.0 323.4 248.1 322.5 243.5 C321.6 238.9 321.0 237.3 321.2 233.5 C321.4 229.7 322.9 225.9 323.8 222.5 C324.7 219.1 324.4 217.3 326.2 215 C328.0 212.7 332.6 212.3 333.8 210 C335.0 207.7 333.0 205.7 332.5 202.5 C332.0 199.3 330.7 195.7 331.2 192.5 C331.7 189.3 334.8 188.2 335 185 C335.2 181.8 332.7 178.7 332.5 175 C332.3 171.3 333.8 168.7 333.8 165 C333.8 161.3 332.3 158.2 332.5 155 C332.7 151.8 333.6 149.8 335 147.5 C336.4 145.2 337.7 144.1 340 142.5 C342.3 140.9 345.7 142.7 347.5 138.8 C349.3 134.9 349.5 124.5 350 121.2 C350.5 117.9 340.1 121.0 350 121 Z" fill="#7cc243"/>
<path d="M387.5 249.8 C388.8 248.2 391.8 246.5 392.5 247.2 C393.2 247.9 392.0 251.2 391.2 253.5 C390.4 255.8 389.0 259.3 388 259.8 C387.0 260.3 385.6 257.8 385.5 256 C385.4 254.2 386.2 251.4 387.5 249.8 Z" fill="#7cc243"/>
<path d="M371.2 263 L373.8 258.5 L372.8 268.5 L370.2 273.5 Z" fill="#7cc243"/>
<path d="M420 121 C431.2 117.3 466.9 117.8 478.8 121 C490.7 124.2 482.7 133.5 485 138.5 C487.3 143.5 491.0 144.4 491.2 148.5 C491.4 152.6 488.3 156.4 486.2 161 C484.1 165.6 482.5 169.1 480 173.5 C477.5 177.9 475.7 181.6 472.5 184.8 C469.3 188.0 466.6 188.7 462.5 191 C458.4 193.3 454.8 195.1 450 197.2 C445.2 199.3 440.1 200.6 436.2 202.2 C432.3 203.8 430.9 206.7 428.8 206 C426.7 205.3 427.1 201.2 425 198.5 C422.9 195.8 419.8 193.8 417.5 191 C415.2 188.2 413.4 186.7 412.5 183.5 C411.6 180.3 413.2 176.7 412.5 173.5 C411.8 170.3 410.0 169.0 408.8 166 C407.6 163.0 405.8 159.9 406.2 157.2 C406.6 154.4 409.1 154.0 411.2 151 C413.3 148.0 415.9 146.5 417.5 141 C419.1 135.5 408.8 124.7 420 121 Z" fill="#2eb24d"/>
<path d="M290.1 297.4 C289.9 296.4 291.1 294.3 291.1 292.4 C291.1 290.5 290.6 289.2 290.1 287.3 C289.6 285.4 289.1 284.1 288.6 282.3 C288.1 280.5 287.8 279.5 287.6 277.3 C287.4 275.1 287.4 272.4 287.6 270.2 C287.8 268.0 288.0 266.8 288.6 265.2 C289.2 263.6 289.9 262.8 291.1 261.7 C292.3 260.6 293.6 259.8 295.1 259.1 C296.6 258.4 298.0 258.8 299.2 258.1 C300.4 257.4 300.6 256.2 301.7 255.1 C302.8 254.0 303.7 253.0 305.2 252.1 C306.7 251.2 308.8 249.7 309.7 250.1 C310.6 250.5 310.3 252.4 310.2 254.1 C310.1 255.8 309.8 257.4 309.2 259.1 C308.6 260.8 307.7 261.7 307.2 263.2 C306.7 264.7 306.3 265.9 306.7 267.2 C307.1 268.5 308.0 269.3 309.2 270.2 C310.4 271.1 312.8 271.3 313.3 272.2 C313.8 273.1 312.6 274.3 311.8 275.2 C311.0 276.1 310.2 276.5 309.2 277.3 C308.2 278.1 307.3 278.4 306.2 279.3 C305.1 280.2 304.3 281.2 303.2 282.3 C302.1 283.4 301.0 284.0 300.2 285.3 C299.4 286.6 299.2 287.8 298.7 289.3 C298.2 290.8 297.7 292.0 297.7 293.4 C297.7 294.8 299.0 296.1 298.7 296.9 C298.4 297.7 297.3 297.7 296.1 297.9 C294.9 298.1 293.2 298.0 292.1 297.9 C291.0 297.8 290.3 298.4 290.1 297.4 Z" fill="#2eb24d"/>
<path d="M315.8 285.3 C316.1 284.3 318.4 285.2 319.3 284.3 C320.2 283.4 320.2 280.7 320.8 280.3 C321.4 279.9 322.2 281.5 322.8 282.3 C323.4 283.1 323.6 285.3 324.3 284.8 C325.0 284.3 325.6 280.1 326.4 279.8 C327.2 279.5 327.9 281.7 328.4 283.3 C328.9 284.9 328.7 286.7 328.9 288.3 C329.1 289.9 329.7 290.7 329.4 291.9 C329.1 293.1 328.2 294.0 327.4 294.9 C326.6 295.8 325.9 296.6 324.8 296.9 C323.7 297.2 322.4 297.0 321.3 296.4 C320.2 295.8 319.4 294.6 318.8 293.4 C318.2 292.2 318.4 291.3 317.8 289.8 C317.2 288.3 315.5 286.3 315.8 285.3 Z" fill="#2eb24d"/>
<path d="M302.7 289.3 C302.9 288.4 304.0 288.2 305.2 287.8 C306.4 287.4 307.9 287.1 309.2 287.3 C310.5 287.5 311.6 288.0 312.3 288.8 C313.0 289.6 313.2 291.0 312.8 291.9 C312.4 292.8 311.3 293.3 310.2 293.9 C309.1 294.4 307.8 295.1 306.7 294.9 C305.6 294.7 304.9 293.9 304.2 292.9 C303.5 291.9 302.5 290.2 302.7 289.3 Z" fill="#2eb24d"/>
<path d="M315.8 299.9 C316.0 299.5 317.4 300.1 318.3 300.4 C319.2 300.7 320.4 300.9 320.8 301.4 C321.2 301.9 320.9 302.7 320.3 302.9 C319.7 303.1 318.1 302.9 317.3 302.4 C316.5 301.8 315.6 300.3 315.8 299.9 Z" fill="#2eb24d"/>
<path d="M435.2 221.8 C435.4 220.1 436.3 218.6 438 217.1 C439.7 215.6 441.9 214.8 444.6 213.4 C447.4 212.0 449.8 210.5 453 209.6 C456.2 208.7 458.9 208.7 462.3 208.7 C465.7 208.7 469.1 209.8 471.7 209.6 C474.3 209.4 475.4 207.6 476.4 207.8 C477.4 208.0 477.5 209.1 477.3 210.6 C477.1 212.1 475.6 213.8 475.4 216.2 C475.2 218.6 476.1 221.1 476.4 223.7 C476.7 226.3 477.0 227.8 477.3 230.2 C477.6 232.6 478.7 234.9 478.2 236.8 C477.7 238.7 476.4 240.0 474.5 240.5 C472.6 241.0 470.5 239.9 467.9 239.6 C465.3 239.3 463.1 239.0 460.5 238.7 C457.9 238.4 456.3 237.6 453.9 237.7 C451.5 237.8 448.9 239.5 447.4 239 C445.9 238.5 446.5 236.5 445.5 234.9 C444.5 233.3 443.3 231.7 441.8 230.2 C440.3 228.7 438.3 228.0 437.1 226.5 C435.9 225.0 435.0 223.5 435.2 221.8 Z" fill="#f5ee3d"/>
<path d="M423.8 224.8 L427.5 223.5 L428.8 227.2 L425 229 Z" fill="#f5ee3d"/>
<path d="M422.5 233.5 C423.9 232.4 428.4 230.8 430 231 C431.6 231.2 432.1 233.4 431.2 234.8 C430.3 236.2 426.6 238.1 425 238.5 C423.4 238.9 423.0 238.1 422.5 237.2 C422.0 236.3 421.1 234.6 422.5 233.5 Z" fill="#f5ee3d"/>
<path d="M417.4 272.3 C417.2 270.4 416.3 267.6 416.5 264.9 C416.7 262.2 417.4 260.0 418.4 257.4 C419.4 254.8 420.4 252.5 422.1 250.8 C423.8 249.1 425.8 248.2 427.7 248 C429.6 247.8 431.0 248.7 432.4 249.9 C433.8 251.1 433.8 253.2 435.2 254.6 C436.6 256.0 438.2 257.2 439.9 257.4 C441.6 257.6 443.2 256.9 444.6 255.5 C446.0 254.1 446.9 252.0 447.4 249.9 C447.9 247.8 447.4 246.3 447.4 244.3 C447.4 242.3 446.2 240.2 447.4 239 C448.6 237.8 451.5 237.8 453.9 237.7 C456.3 237.6 457.9 238.4 460.5 238.7 C463.1 239.0 465.3 239.3 467.9 239.6 C470.5 239.9 472.6 241.0 474.5 240.5 C476.4 240.0 477.0 236.3 478.2 236.8 C479.4 237.3 479.8 240.7 481 243.3 C482.2 245.9 483.4 248.1 484.8 250.8 C486.2 253.6 487.6 255.9 488.5 258.3 C489.4 260.7 490.0 262.2 489.5 263.9 C489.0 265.6 486.9 266.2 485.7 267.7 C484.5 269.2 483.9 270.9 482.9 272.3 C481.9 273.7 481.5 273.7 480.1 275.1 C478.7 276.5 476.3 278.9 475.4 279.8 C474.5 280.7 476.2 280.7 475.4 279.8 C474.6 278.9 472.9 276.6 470.8 275.1 C468.7 273.6 466.8 272.4 464.2 271.4 C461.6 270.4 459.1 270.2 456.7 269.5 C454.3 268.8 453.5 267.9 451.1 267.7 C448.7 267.5 446.4 268.3 443.6 268.6 C440.9 268.9 438.8 269.2 436.1 269.5 C433.4 269.8 431.1 270.0 428.7 270.5 C426.3 271.0 425.1 271.5 423 272.3 C420.9 273.1 418.4 275.1 417.4 275.1 C416.4 275.1 417.6 274.2 417.4 272.3 Z" fill="#f0847b"/>
<path d="M417.4 275.1 C418.2 273.4 420.9 273.1 423 272.3 C425.1 271.5 426.3 271.0 428.7 270.5 C431.1 270.0 433.4 269.8 436.1 269.5 C438.8 269.2 440.9 268.9 443.6 268.6 C446.4 268.3 448.7 267.5 451.1 267.7 C453.5 267.9 454.3 268.8 456.7 269.5 C459.1 270.2 461.6 270.4 464.2 271.4 C466.8 272.4 468.7 273.6 470.8 275.1 C472.9 276.6 474.7 277.7 475.4 279.8 C476.1 281.9 475.2 284.2 474.5 286.4 C473.8 288.6 472.9 290.3 471.7 292 C470.5 293.7 468.4 294.2 467.9 295.7 C467.4 297.2 469.4 298.7 468.9 300.4 C468.4 302.1 467.0 303.7 465.1 305.1 C463.2 306.5 461.2 307.0 458.6 307.9 C456.0 308.8 453.7 309.8 451.1 309.8 C448.5 309.8 446.8 309.1 444.6 307.9 C442.4 306.7 440.3 305.1 438.9 303.2 C437.5 301.3 437.9 299.7 437.1 297.6 C436.3 295.5 435.8 293.2 434.3 292 C432.8 290.8 430.8 291.0 428.7 291 C426.6 291.0 424.6 292.7 423 292 C421.4 291.3 421.0 289.2 420.2 287.3 C419.4 285.4 418.9 283.9 418.4 281.7 C417.9 279.5 416.6 276.8 417.4 275.1 Z" fill="#fbc688"/>
<path d="M406.2 305.1 C405.9 303.8 406.7 301.0 408.1 299.5 C409.5 298.0 411.5 297.7 413.7 296.7 C415.9 295.7 418.5 294.8 420.2 293.9 C421.9 293.0 421.4 292.5 423 292 C424.6 291.5 426.6 291.0 428.7 291 C430.8 291.0 432.8 290.8 434.3 292 C435.8 293.2 436.8 295.5 437.1 297.6 C437.4 299.7 438.0 301.9 436.1 303.2 C434.2 304.5 430.2 304.1 426.8 304.5 C423.4 304.9 420.5 305.3 417.4 305.6 C414.3 305.9 412.0 306.5 409.9 306.4 C407.8 306.3 406.5 306.4 406.2 305.1 Z" fill="#e3676b"/>
<path d="M488.8 263.8 C490.5 263.5 492.7 266.0 495 266.2 C497.3 266.4 499.6 264.3 501.2 265 C502.8 265.7 502.6 270.0 503.8 270 C505.0 270.0 505.4 265.8 507.5 265 C509.6 264.2 512.7 264.8 515 265.5 C517.3 266.2 518.4 266.6 520 268.8 C521.6 271.0 522.4 274.3 523.8 277.5 C525.2 280.7 525.7 283.2 527.5 286.2 C529.3 289.2 531.7 291.7 533.8 293.8 C535.9 295.9 536.5 296.8 538.8 297.5 C541.1 298.2 544.6 296.6 546.2 297.5 C547.8 298.4 548.2 300.7 547.5 302.5 C546.8 304.3 544.6 306.3 542.5 307.5 C540.4 308.7 537.1 307.2 536.2 308.8 C535.3 310.4 536.3 313.2 537.5 316.2 C538.7 319.2 542.7 322.7 542.5 325 C542.3 327.3 538.3 327.0 536.2 328.8 C534.1 330.6 532.3 332.5 531.2 335 C530.1 337.5 532.1 340.9 530 342.5 C527.9 344.1 523.7 343.8 520 343.8 C516.3 343.8 513.7 342.3 510 342.5 C506.3 342.7 503.7 344.3 500 345 C496.3 345.7 494.1 346.2 490 346.2 C485.9 346.2 481.9 344.8 477.5 345 C473.1 345.2 469.9 346.6 466.2 347.5 C462.5 348.4 460.0 349.1 457.5 350 C455.0 350.9 453.7 354.3 452.5 352.5 C451.3 350.7 451.2 344.6 451.2 340 C451.2 335.4 453.2 332.5 452.5 327.5 C451.8 322.5 447.8 315.7 447.5 312.5 C447.2 309.3 449.1 310.6 451.1 309.8 C453.1 309.0 456.0 308.8 458.6 307.9 C461.2 307.0 463.2 306.5 465.1 305.1 C467.0 303.7 468.4 302.1 468.9 300.4 C469.4 298.7 467.4 297.2 467.9 295.7 C468.4 294.2 470.5 293.7 471.7 292 C472.9 290.3 473.8 288.6 474.5 286.4 C475.2 284.2 474.4 281.9 475.4 279.8 C476.4 277.7 478.7 276.5 480.1 275.1 C481.5 273.7 481.9 273.7 482.9 272.3 C483.9 270.9 484.6 269.3 485.7 267.7 C486.8 266.1 487.1 264.1 488.8 263.8 Z" fill="#e9646f"/>
<path d="M494.8 405.7 C494.6 406.6 497.4 406.5 499.1 407.5 C500.8 408.5 502.6 409.8 504.2 411.3 C505.8 412.8 506.5 414.1 507.9 415.7 C509.3 417.3 510.3 418.4 511.7 420.1 C513.1 421.8 514.3 423.0 515.5 425.1 C516.7 427.2 517.2 429.1 518 431.4 C518.8 433.7 519.3 435.4 519.9 437.7 C520.5 440.0 520.6 441.8 521.1 443.9 C521.6 446.0 521.9 447.6 522.4 449 C522.9 450.4 523.2 451.1 523.9 451.5 C524.6 451.9 525.1 453.1 526.25 451.25 C527.4 449.4 528.9 444.5 530 441.25 C531.1 438.0 531.1 435.8 532.5 433.75 C533.9 431.7 535.7 430.9 537.5 430 C539.3 429.1 542.0 429.9 542.5 428.75 C543.0 427.6 541.6 425.6 540 423.75 C538.4 421.9 536.3 420.6 533.75 418.75 C531.2 416.9 528.8 415.8 526.25 413.75 C523.7 411.7 522.3 409.3 520 407.5 C517.7 405.7 516.5 404.9 513.75 403.75 C511.0 402.6 507.5 401.4 505 401.25 C502.5 401.1 501.9 402.0 500 402.8 C498.1 403.6 495.0 404.8 494.8 405.7 Z" fill="#ea6b78"/>
<path d="M245 330 C246.6 327.5 249.3 325.4 252.5 323.8 C255.7 322.2 258.8 321.9 262.5 321.2 C266.2 320.5 271.1 318.6 272.5 320 C273.9 321.4 270.9 325.6 270 328.8 C269.1 332.0 268.9 334.8 267.5 337.5 C266.1 340.2 264.8 342.0 262.5 343.8 C260.2 345.6 256.6 345.4 255 347.5 C253.4 349.6 254.5 352.7 253.8 355 C253.1 357.3 252.1 360.0 251.2 360 C250.3 360.0 250.4 356.4 248.8 355 C247.2 353.6 245.0 353.2 242.5 352.5 C240.0 351.8 235.9 352.6 235 351.2 C234.1 349.8 235.9 347.5 237.5 345 C239.1 342.5 242.4 340.2 243.8 337.5 C245.2 334.8 243.4 332.5 245 330 Z" fill="#b7d54b"/>
<path d="M217.5 357.5 C218.6 355.7 221.8 355.0 225 353.8 C228.2 352.6 231.8 351.4 235 351.2 C238.2 351.0 240.0 351.8 242.5 352.5 C245.0 353.2 247.2 353.6 248.8 355 C250.4 356.4 250.3 357.9 251.2 360 C252.1 362.1 253.6 363.4 253.8 366.2 C254.0 368.9 253.2 372.5 252.5 375 C251.8 377.5 251.2 378.4 250 380 C248.8 381.6 248.0 383.8 246.2 383.8 C244.4 383.8 242.5 381.2 240 380 C237.5 378.8 235.2 379.3 232.5 377.5 C229.8 375.7 227.5 372.5 225 370 C222.5 367.5 220.2 366.1 218.8 363.8 C217.4 361.5 216.4 359.3 217.5 357.5 Z" fill="#139f4b"/>
<path d="M248.8 378.8 C249.7 377.2 251.6 375.1 252.5 376.2 C253.4 377.3 254.0 382.7 253.8 385 C253.6 387.3 252.4 388.8 251.2 388.8 C250.0 388.8 247.9 386.8 247.5 385 C247.1 383.2 247.9 380.4 248.8 378.8 Z" fill="#22ab4b"/>
<path d="M340.1 409.6 C338.5 409.1 337.7 408.0 336.3 406.5 C334.9 405.0 334.2 403.6 332.6 401.5 C331.0 399.4 328.9 397.5 327.5 395.2 C326.1 392.9 325.7 390.7 325 388.9 C324.3 387.1 324.5 386.5 323.8 385.2 C323.1 383.9 321.1 382.7 321.3 382 C321.5 381.3 323.2 382.2 325 381.4 C326.8 380.6 329.0 379.0 331.3 377.6 C333.6 376.2 335.5 375.2 337.6 373.9 C339.7 372.6 340.9 372.0 342.6 370.7 C344.3 369.4 345.8 367.1 347 367 C348.2 366.9 347.5 369.6 348.9 370.1 C350.3 370.6 352.9 369.6 354.5 369.5 C356.1 369.4 356.2 369.0 357.7 369.5 C359.2 370.0 360.9 371.1 362.7 372 C364.5 372.9 366.1 373.5 367.7 374.5 C369.3 375.5 370.1 376.3 371.5 377.6 C372.9 378.9 373.6 380.6 375.2 381.4 C376.8 382.2 378.3 382.0 380.2 382 C382.1 382.0 383.7 381.1 385.3 381.4 C386.9 381.7 387.6 382.7 389 383.9 C390.4 385.1 391.4 386.4 392.8 387.7 C394.2 389.0 396.1 389.7 396.6 390.8 C397.1 391.9 396.0 392.6 395.3 393.9 C394.6 395.2 393.5 396.2 392.8 397.7 C392.1 399.2 392.3 400.7 391.5 402.1 C390.7 403.5 390.0 404.3 388.4 405.2 C386.8 406.1 384.5 406.2 382.8 407.1 C381.1 408.0 380.4 410.3 379 410.3 C377.6 410.3 376.8 407.6 375.2 407.1 C373.6 406.6 372.0 408.0 370.2 407.8 C368.4 407.6 367.0 406.5 365.2 405.9 C363.4 405.3 361.8 404.7 360.2 404.6 C358.6 404.5 358.0 404.5 356.4 405.2 C354.8 405.9 353.5 407.7 351.4 408.4 C349.3 409.1 347.2 408.8 345.1 409 C343.0 409.2 341.7 410.1 340.1 409.6 Z" fill="#f6f391"/>
<path d="M396.6 390.8 C397.5 390.5 398.7 391.5 400.3 392.1 C401.9 392.7 403.4 393.4 405.3 393.9 C407.2 394.4 408.5 394.7 410.4 394.6 C412.3 394.5 413.6 393.3 415.4 393.3 C417.2 393.3 418.6 394.3 420.4 394.6 C422.2 394.9 423.6 395.4 425.4 395.2 C427.2 395.0 428.5 393.3 430.4 393.3 C432.3 393.3 433.6 394.4 435.5 395.2 C437.4 396.0 439.0 397.3 440.5 397.7 C442.0 398.1 443.3 396.6 443.9 397.5 C444.4 398.4 443.8 400.8 443.5 402.5 C443.2 404.2 442.7 405.5 442.3 407 C441.9 408.5 442.7 410.0 441.4 410.7 C440.1 411.4 437.4 410.6 435.1 410.7 C432.8 410.8 431.2 410.7 428.9 411.3 C426.6 411.9 424.9 412.8 422.6 413.8 C420.3 414.8 418.6 416.1 416.3 417 C414.0 417.9 412.1 418.2 410 418.8 C407.9 419.4 406.8 419.6 405 420.1 C403.2 420.6 401.3 421.0 400 421.4 C398.7 421.8 399.1 421.9 397.8 422.2 C396.5 422.5 394.6 422.5 392.8 422.8 C391.0 423.1 389.4 424.3 387.8 424.1 C386.2 423.9 385.2 422.8 384 421.6 C382.8 420.4 382.2 419.2 381.5 417.8 C380.8 416.4 380.7 415.4 380.2 414 C379.7 412.6 378.5 411.6 379 410.3 C379.5 409.0 381.1 408.0 382.8 407.1 C384.5 406.2 386.8 406.1 388.4 405.2 C390.0 404.3 390.7 403.5 391.5 402.1 C392.3 400.7 392.1 399.2 392.8 397.7 C393.5 396.2 394.6 395.2 395.3 393.9 C396.0 392.6 395.7 391.1 396.6 390.8 Z" fill="#f5f07c"/>
<path d="M295.3 433.3 C296.0 432.1 299.3 432.0 301.6 431.4 C303.9 430.8 305.5 430.7 307.8 430.1 C310.1 429.5 311.8 428.8 314.1 428.2 C316.4 427.6 318.1 427.3 320.4 427 C322.7 426.7 324.9 426.3 326.7 426.4 C328.5 426.5 329.5 428.1 330.4 427.6 C331.3 427.1 331.7 425.4 331.7 423.8 C331.7 422.2 330.2 420.4 330.4 418.8 C330.6 417.2 331.8 416.3 333 415.1 C334.2 413.9 335.4 413.5 336.7 412.5 C338.0 411.5 338.6 410.2 340.1 409.6 C341.6 409.0 343.0 409.2 345.1 409 C347.2 408.8 349.3 409.1 351.4 408.4 C353.5 407.7 354.8 405.9 356.4 405.2 C358.0 404.5 358.6 404.5 360.2 404.6 C361.8 404.7 363.4 405.3 365.2 405.9 C367.0 406.5 368.4 407.6 370.2 407.8 C372.0 408.0 373.6 406.6 375.2 407.1 C376.8 407.6 378.1 409.0 379 410.3 C379.9 411.6 379.7 412.6 380.2 414 C380.7 415.4 380.8 416.4 381.5 417.8 C382.2 419.2 384.0 420.6 384 421.6 C384.0 422.6 382.7 422.6 381.6 423.2 C380.5 423.8 379.1 424.3 377.8 425.1 C376.5 425.9 375.3 426.3 374.5 427.5 C373.7 428.7 373.5 429.8 373.4 431.4 C373.3 433.0 374.3 434.5 374 436.4 C373.7 438.3 372.6 440.3 371.5 441.5 C370.4 442.7 369.6 442.1 367.8 442.7 C366.0 443.3 363.8 444.0 361.5 444.6 C359.2 445.2 357.5 445.3 355.2 445.8 C352.9 446.3 351.4 446.8 348.9 447.1 C346.4 447.4 343.9 447.5 341.4 447.7 C338.9 447.9 337.0 448.2 335 448 C333.0 447.8 331.9 447.1 330.4 446.5 C328.9 445.9 328.1 445.4 326.7 444.5 C325.3 443.6 324.1 442.5 322.8 441.4 C321.5 440.3 321.1 439.0 319.5 438.3 C317.9 437.6 316.1 437.8 314 437.8 C311.9 437.8 310.2 438.2 308 438.5 C305.8 438.8 303.8 439.1 302 439.5 C300.2 439.9 299.2 441.1 298.4 440.8 C297.6 440.5 298.4 439.1 297.8 437.7 C297.2 436.3 294.6 434.5 295.3 433.3 Z" fill="#b7d54b"/>
<path d="M384 421.6 C385.1 421.8 386.2 423.9 387.8 424.1 C389.4 424.3 391.0 423.1 392.8 422.8 C394.6 422.5 396.5 422.5 397.8 422.2 C399.1 421.9 398.7 421.8 400 421.4 C401.3 421.0 403.2 420.6 405 420.1 C406.8 419.6 407.9 419.4 410 418.8 C412.1 418.2 414.0 417.9 416.3 417 C418.6 416.1 420.3 414.8 422.6 413.8 C424.9 412.8 426.6 411.9 428.9 411.3 C431.2 410.7 432.8 410.8 435.1 410.7 C437.4 410.6 439.5 410.4 441.4 410.7 C443.3 411.0 443.8 411.8 445.2 412.6 C446.6 413.4 448.0 414.2 448.9 415.1 C449.8 416.0 450.4 416.7 450.2 417.6 C450.0 418.5 448.9 419.3 447.7 420.1 C446.5 420.9 445.1 420.8 443.9 422 C442.7 423.2 442.1 424.7 441.4 426.4 C440.7 428.1 440.9 429.6 440.2 431.4 C439.5 433.2 438.6 434.6 437.7 436.4 C436.8 438.2 436.0 439.8 435.1 441.4 C434.2 443.0 433.7 443.8 432.6 445.2 C431.5 446.6 430.3 448.0 428.9 449 C427.5 450.0 426.5 450.6 425.1 450.9 C423.7 451.2 422.7 451.0 421.3 450.9 C419.9 450.8 419.2 450.1 417.6 450.2 C416.0 450.3 414.5 450.9 412.6 451.5 C410.7 452.1 409.1 452.6 407.5 453.4 C405.9 454.2 405.2 455.0 403.8 455.9 C402.4 456.8 402.0 458.0 400 458.5 C398.0 459.0 395.4 459.0 392.9 458.4 C390.4 457.8 388.9 456.5 386.6 455.2 C384.3 453.9 382.4 452.9 380.3 451.5 C378.2 450.1 376.7 449.0 375.3 447.7 C373.9 446.4 373.5 445.6 372.8 444.5 C372.1 443.4 371.3 443.0 371.5 441.5 C371.7 440.0 373.7 438.3 374 436.4 C374.3 434.5 373.3 433.0 373.4 431.4 C373.5 429.8 373.7 428.7 374.5 427.5 C375.3 426.3 376.5 425.9 377.8 425.1 C379.1 424.3 380.5 423.8 381.6 423.2 C382.7 422.6 382.9 421.4 384 421.6 Z" fill="#f9ea1d"/>
<path d="M243.2 441.4 C243.7 439.9 245.5 439.0 247 437.7 C248.5 436.4 249.8 435.9 251.4 434.5 C253.0 433.1 254.9 431.6 255.8 430.1 C256.7 428.6 255.4 427.2 256.4 426.4 C257.4 425.6 259.3 425.6 261.4 425.7 C263.5 425.8 265.4 427.0 267.7 427 C270.0 427.0 271.7 425.7 274 425.7 C276.3 425.7 277.9 426.5 280.2 427 C282.5 427.5 284.4 427.6 286.5 428.2 C288.6 428.8 289.9 429.2 291.5 430.1 C293.1 431.0 294.1 431.9 295.3 433.3 C296.5 434.7 297.2 436.3 297.8 437.7 C298.4 439.1 298.9 439.8 298.4 440.8 C297.9 441.8 296.1 442.1 295.3 443.3 C294.5 444.5 294.7 445.9 294 447.1 C293.3 448.3 292.6 449.0 291.5 449.6 C290.4 450.2 288.9 449.6 287.8 450.2 C286.7 450.8 286.2 452.5 285.3 452.7 C284.4 452.9 283.7 451.0 282.8 451.5 C281.9 452.0 281.2 455.0 280.2 455.2 C279.2 455.4 278.2 453.6 277.1 452.7 C276.0 451.8 275.3 450.5 274 450.2 C272.7 449.9 271.6 450.6 270.2 450.8 C268.8 451.0 268.0 451.3 266.4 451.5 C264.8 451.7 263.0 451.9 261.4 452.1 C259.8 452.3 259.2 452.5 257.7 452.7 C256.2 452.9 254.5 453.8 253.3 453.3 C252.1 452.8 251.9 451.6 251.4 450.2 C250.9 448.8 251.4 447.0 250.7 445.8 C250.0 444.6 248.7 443.9 247.6 443.9 C246.5 443.9 245.3 446.3 244.5 445.8 C243.7 445.3 242.7 442.9 243.2 441.4 Z" fill="#f5ec34"/>
<path d="M271.2 516.2 C272.1 514.8 274.4 514.9 276.2 513.8 C278.0 512.7 280.0 509.3 281.2 510 C282.4 510.7 282.7 514.5 282.5 517.5 C282.3 520.5 281.2 523.5 280 526.2 C278.8 529.0 277.6 532.3 276.2 532.5 C274.8 532.7 273.4 529.6 272.5 527.5 C271.6 525.4 271.4 523.3 271.2 521.2 C271.0 519.1 270.3 517.6 271.2 516.2 Z" fill="#6abd45"/>
<path d="M40 465 C41.2 463.4 44.3 462.6 47.5 461.2 C50.7 459.8 54.3 457.7 57.5 457.5 C60.7 457.3 61.8 458.8 65 460 C68.2 461.2 71.3 462.7 75 463.8 C78.7 464.9 80.9 464.8 85 466.2 C89.1 467.6 92.9 469.6 97.5 471.2 C102.1 472.8 105.4 473.6 110 475 C114.6 476.4 118.4 477.7 122.5 478.8 C126.6 479.9 129.5 480.3 132.5 481.2 C135.5 482.1 136.5 482.2 138.8 483.8 C141.1 485.4 142.0 487.7 145 490 C148.0 492.3 151.3 494.1 155 496.2 C158.7 498.3 161.3 499.6 165 501.2 C168.7 502.8 172.2 503.8 175 505 C177.8 506.2 177.2 506.8 180 507.5 C182.8 508.2 186.6 508.1 190 508.8 C193.4 509.5 197.4 509.6 198.8 511.2 C200.2 512.8 199.1 515.4 197.5 517.5 C195.9 519.6 193.2 520.9 190 522.5 C186.8 524.1 183.2 525.0 180 526.2 C176.8 527.4 175.2 527.4 172.5 528.8 C169.8 530.2 167.3 531.7 165 533.8 C162.7 535.9 162.3 537.5 160 540 C157.7 542.5 155.2 544.8 152.5 547.5 C149.8 550.2 146.8 552.7 145 555 C143.2 557.3 142.3 557.7 142.5 560 C142.7 562.3 146.2 564.8 146.2 567.5 C146.2 570.2 144.3 572.5 142.5 575 C140.7 577.5 138.5 579.4 136.2 581.2 C133.9 583.0 132.5 583.6 130 585 C127.5 586.4 125.2 587.4 122.5 588.8 C119.8 590.2 117.3 591.1 115 592.5 C112.7 593.9 112.3 596.0 110 596.2 C107.7 596.4 105.7 594.5 102.5 593.8 C99.3 593.1 96.2 592.5 92.5 592.5 C88.8 592.5 86.2 593.3 82.5 593.8 C78.8 594.3 76.2 594.1 72.5 595 C68.8 595.9 65.7 598.3 62.5 598.8 C59.3 599.3 57.1 599.1 55 597.5 C52.9 595.9 52.1 592.8 51.2 590 C50.3 587.2 51.1 585.2 50 582.5 C48.9 579.8 47.3 576.8 45 575 C42.7 573.2 39.1 573.9 37.5 572.5 C35.9 571.1 35.3 569.3 36.2 567.5 C37.1 565.7 40.7 564.3 42.5 562.5 C44.3 560.7 45.7 559.8 46.2 557.5 C46.7 555.2 44.8 552.8 45 550 C45.2 547.2 46.6 545.2 47.5 542.5 C48.4 539.8 48.6 537.8 50 535 C51.4 532.2 53.4 530.2 55 527.5 C56.6 524.8 57.9 522.8 58.8 520 C59.7 517.2 59.1 515.0 60 512.5 C60.9 510.0 62.0 508.0 63.8 506.2 C65.6 504.4 68.6 504.1 70 502.5 C71.4 500.9 71.9 499.3 71.2 497.5 C70.5 495.7 68.3 493.9 66.2 492.5 C64.1 491.1 62.5 490.7 60 490 C57.5 489.3 54.8 489.7 52.5 488.8 C50.2 487.9 49.6 485.7 47.5 485 C45.4 484.3 42.1 486.4 41.2 485 C40.3 483.6 42.5 480.2 42.5 477.5 C42.5 474.8 41.7 472.3 41.2 470 C40.7 467.7 38.8 466.6 40 465 Z" fill="#7cc243"/>
<path d="M41.2 485 C42.8 483.4 45.4 484.3 47.5 485 C49.6 485.7 50.2 487.9 52.5 488.8 C54.8 489.7 57.5 489.3 60 490 C62.5 490.7 64.1 491.1 66.2 492.5 C68.3 493.9 70.5 495.7 71.2 497.5 C71.9 499.3 71.4 500.9 70 502.5 C68.6 504.1 65.6 504.4 63.8 506.2 C62.0 508.0 60.9 510.0 60 512.5 C59.1 515.0 59.7 517.2 58.8 520 C57.9 522.8 56.6 524.8 55 527.5 C53.4 530.2 51.4 532.2 50 535 C48.6 537.8 48.4 539.8 47.5 542.5 C46.6 545.2 45.2 547.2 45 550 C44.8 552.8 46.7 555.2 46.2 557.5 C45.7 559.8 44.3 560.7 42.5 562.5 C40.7 564.3 37.6 565.7 36.2 567.5 C34.8 569.3 36.6 571.8 35 572.5 C33.4 573.2 30.9 571.9 27.5 571.2 C24.1 570.5 17.8 570.4 16.2 568.8 C14.6 567.2 17.6 565.0 18.8 562.5 C20.0 560.0 21.4 557.8 22.5 555 C23.6 552.2 25.2 549.8 25 547.5 C24.8 545.2 22.8 544.6 21.2 542.5 C19.6 540.4 16.2 538.5 16.2 536.2 C16.2 533.9 19.6 532.5 21.2 530 C22.8 527.5 23.4 525.7 25 522.5 C26.6 519.3 28.2 516.2 30 512.5 C31.8 508.8 33.4 505.9 35 502.5 C36.6 499.1 37.7 497.0 38.8 493.8 C39.9 490.6 39.6 486.6 41.2 485 Z" fill="#4db748"/>
<path d="M183.8 557.5 L191.2 552.5 L196.2 557.5 L191.2 563.8 Z" fill="#7cc243"/>
<path d="M203.8 553 L207 553.8 L207.5 556.2 L204.5 555 Z" fill="#7cc243"/>
<path d="M164.5 566.2 L167.5 564.5 L168 566.5 L165.5 567.5 Z" fill="#7cc243"/>
<path d="M320 598.75 C320.8 597.6 322.7 595.9 325 595 C327.3 594.1 329.8 593.5 332.5 593.75 C335.2 594.0 336.8 596.0 340 596.25 C343.2 596.5 346.8 595.7 350 595 C353.2 594.3 355.2 593.0 357.5 592.5 C359.8 592.0 361.7 591.1 362.5 592 C363.3 592.9 362.7 595.3 362 597.5 C361.3 599.7 359.6 601.5 358.75 603.75 C357.9 606.0 357.3 607.7 357.5 610 C357.7 612.3 360.7 614.5 360 616.25 C359.3 618.0 356.0 619.5 353.75 619.5 C351.5 619.5 350.0 617.8 347.5 616.25 C345.0 614.7 342.8 612.9 340 611.25 C337.2 609.6 335.2 608.9 332.5 607.5 C329.8 606.1 327.2 604.9 325 603.75 C322.8 602.6 321.4 602.2 320.5 601.25 C319.6 600.3 319.2 599.9 320 598.75 Z" fill="#fabe86"/>
<path d="M263.8 543.8 C264.5 541.5 267.5 540.9 270 540 C272.5 539.1 275.4 537.9 277.5 538.8 C279.6 539.7 280.5 542.0 281.2 545 C281.9 548.0 281.6 551.3 281.2 555 C280.8 558.7 279.7 561.6 278.8 565 C277.9 568.4 277.8 571.7 276.2 573.8 C274.6 575.9 272.1 576.4 270 576.2 C267.9 576.0 265.9 575.0 265 572.5 C264.1 570.0 264.8 566.2 265 562.5 C265.2 558.8 266.4 555.9 266.2 552.5 C266.0 549.1 263.1 546.1 263.8 543.8 Z" fill="#fabe86"/>
<path d="M372.8 444.5 C373.3 444.7 373.9 446.4 375.3 447.7 C376.7 449.0 378.2 450.1 380.3 451.5 C382.4 452.9 384.3 453.9 386.6 455.2 C388.9 456.5 390.4 457.8 392.9 458.4 C395.4 459.0 398.0 459.0 400 458.5 C402.0 458.0 402.8 456.2 403.8 455.9 C404.8 455.6 404.5 455.9 405.3 456.9 C406.1 457.9 407.5 459.6 408.4 461.3 C409.3 463.0 410.1 464.9 410.3 466.3 C410.5 467.7 411.1 468.5 409.7 468.8 C408.3 469.1 405.2 468.1 402.8 468.2 C400.4 468.3 398.8 469.3 396.5 469.4 C394.2 469.5 392.7 469.0 390.2 468.8 C387.7 468.6 385.2 468.4 382.7 468.2 C380.2 468.0 378.7 467.5 376.4 467.6 C374.1 467.7 372.1 468.1 370.1 468.8 C368.1 469.5 366.5 470.3 365.7 471.3 C364.9 472.3 365.2 473.3 365.7 474.5 C366.2 475.7 367.3 476.1 368.2 477.6 C369.1 479.1 369.8 480.9 370.7 482.6 C371.6 484.3 372.3 485.4 373.3 487 C374.3 488.6 375.1 489.8 376.4 491.4 C377.7 493.0 378.8 494.3 380.2 495.8 C381.6 497.3 382.5 498.2 383.9 499.6 C385.3 501.0 386.3 502.0 387.7 503.3 C389.1 504.6 390.1 505.6 391.5 506.5 C392.9 507.4 393.8 507.6 395.2 508.3 C396.6 509.0 398.1 508.9 399 510.2 C399.9 511.5 400.6 514.4 400.2 515.2 C399.8 516.0 398.1 514.7 397 514.5 C395.9 514.3 395.2 514.4 394 514 C392.8 513.6 391.6 513.0 390.2 512.1 C388.8 511.2 387.8 510.2 386.4 509 C385.0 507.8 384.1 506.8 382.7 505.8 C381.3 504.8 380.3 504.3 378.9 503.3 C377.5 502.3 376.5 501.4 375.1 500.2 C373.7 499.0 372.8 498.2 371.4 497 C370.0 495.8 369.0 495.0 367.6 493.9 C366.2 492.8 365.1 492.1 363.8 490.8 C362.5 489.5 361.7 488.5 360.7 487 C359.7 485.5 359.0 484.2 358.2 482.6 C357.4 481.0 357.0 479.8 356.3 478.2 C355.6 476.6 355.1 475.3 354.4 473.8 C353.7 472.3 353.6 471.0 352.6 470.1 C351.6 469.2 349.9 468.6 348.8 468.8 C347.7 469.0 347.2 470.0 346.5 471 C345.8 472.0 345.7 473.7 345 474.5 C344.3 475.3 343.3 476.0 342.5 475.5 C341.7 475.0 341.2 473.6 340.5 472 C339.8 470.4 339.2 468.5 338.9 467 C338.6 465.5 338.2 464.3 338.9 464 C339.6 463.7 341.1 465.0 342.7 465.3 C344.3 465.6 345.6 465.7 347.7 465.9 C349.8 466.1 351.9 466.6 354 466.5 C356.1 466.4 357.9 466.2 359 465.3 C360.1 464.4 359.3 462.7 360.2 461.5 C361.1 460.3 363.1 460.2 364 459 C364.9 457.8 365.5 456.6 365.3 455.2 C365.1 453.8 362.3 452.5 362.8 451.5 C363.3 450.5 366.4 450.2 367.8 449.6 C369.2 449.0 369.4 448.9 370.3 448.3 C371.2 447.7 372.3 447.1 372.8 446.4 C373.3 445.7 372.3 444.3 372.8 444.5 Z" fill="#fdd80a"/>
<path d="M341.4 447.7 C343.7 447.1 346.4 447.4 348.9 447.1 C351.4 446.8 352.9 446.3 355.2 445.8 C357.5 445.3 359.2 445.2 361.5 444.6 C363.8 444.0 366.0 443.3 367.8 442.7 C369.6 442.1 370.6 441.2 371.5 441.5 C372.4 441.8 372.6 443.6 372.8 444.5 C373.0 445.4 373.3 445.7 372.8 446.4 C372.3 447.1 371.2 447.7 370.3 448.3 C369.4 448.9 369.2 449.0 367.8 449.6 C366.4 450.2 363.3 450.5 362.8 451.5 C362.3 452.5 365.1 453.8 365.3 455.2 C365.5 456.6 364.9 457.8 364 459 C363.1 460.2 361.1 460.3 360.2 461.5 C359.3 462.7 360.1 464.4 359 465.3 C357.9 466.2 356.1 466.4 354 466.5 C351.9 466.6 349.8 466.1 347.7 465.9 C345.6 465.7 344.3 465.6 342.7 465.3 C341.1 465.0 340.1 465.2 338.9 464 C337.7 462.8 336.6 460.8 336.4 459 C336.2 457.2 337.7 455.6 337.7 454 C337.7 452.4 335.7 451.4 336.4 450.2 C337.1 449.0 339.1 448.3 341.4 447.7 Z" fill="#fddc05"/>
<path d="M399 510.2 C397.6 510.3 396.6 509.0 395.2 508.3 C393.8 507.6 392.9 507.4 391.5 506.5 C390.1 505.6 389.1 504.6 387.7 503.3 C386.3 502.0 385.3 501.0 383.9 499.6 C382.5 498.2 381.6 497.3 380.2 495.8 C378.8 494.3 377.7 493.0 376.4 491.4 C375.1 489.8 374.3 488.6 373.3 487 C372.3 485.4 371.6 484.3 370.7 482.6 C369.8 480.9 369.1 479.1 368.2 477.6 C367.3 476.1 366.2 475.7 365.7 474.5 C365.2 473.3 364.9 472.3 365.7 471.3 C366.5 470.3 368.1 469.5 370.1 468.8 C372.1 468.1 374.1 467.7 376.4 467.6 C378.7 467.5 380.2 468.0 382.7 468.2 C385.2 468.4 387.7 468.6 390.2 468.8 C392.7 469.0 394.2 469.5 396.5 469.4 C398.8 469.3 400.4 468.3 402.8 468.2 C405.2 468.1 408.4 468.0 409.7 468.8 C411.0 469.6 409.6 471.0 409.7 472.6 C409.8 474.2 410.3 475.8 410.3 477.6 C410.3 479.4 409.2 481.0 409.7 482.6 C410.2 484.2 411.8 485.1 412.8 486.4 C413.8 487.7 415.3 488.3 415.3 489.5 C415.3 490.7 413.5 491.4 412.8 492.7 C412.1 494.0 411.6 495.3 411.5 496.4 C411.4 497.5 412.8 498.1 412.2 498.9 C411.6 499.7 409.7 499.9 408.4 500.8 C407.1 501.7 406.3 502.6 405.3 503.9 C404.3 505.2 404.0 506.5 402.8 507.7 C401.6 508.9 400.4 510.1 399 510.2 Z" fill="#f4ef70"/>
<path d="M403.8 455.9 C404.2 455.3 405.9 454.2 407.5 453.4 C409.1 452.6 410.7 452.1 412.6 451.5 C414.5 450.9 416.0 450.3 417.6 450.2 C419.2 450.1 419.9 450.8 421.3 450.9 C422.7 451.0 424.1 450.2 425.1 450.9 C426.1 451.6 426.2 453.4 427 454.6 C427.8 455.8 428.8 456.4 429.5 457.7 C430.2 459.0 429.9 460.2 430.7 461.5 C431.5 462.8 432.6 463.8 433.9 464.7 C435.2 465.6 436.5 465.7 437.7 466.5 C438.9 467.3 439.5 468.0 440.2 469 C440.9 470.0 440.7 471.0 441.4 472.2 C442.1 473.4 442.7 474.5 443.9 475.3 C445.1 476.1 446.5 476.6 447.7 476.6 C448.9 476.6 449.3 475.9 450.2 475.3 C451.1 474.7 451.8 473.4 452.7 473.4 C453.6 473.4 454.5 474.3 455.2 475.3 C455.9 476.3 456.4 477.7 456.5 479.1 C456.6 480.5 456.5 481.8 456 483 C455.5 484.2 454.1 484.3 454 485.5 C453.9 486.7 454.9 488.0 455.5 489.5 C456.1 491.0 456.6 492.2 457.5 493.5 C458.4 494.8 459.6 495.2 460.5 496.4 C461.4 497.6 462.2 498.6 462.4 500.2 C462.6 501.8 462.2 503.6 461.7 505.2 C461.2 506.8 460.2 507.6 459.5 509 C458.8 510.4 457.8 511.7 457.7 513 C457.6 514.3 458.8 514.8 459 516 C459.2 517.2 459.7 519.1 459 519.4 C458.3 519.7 456.8 517.7 455.2 517.5 C453.6 517.3 452.0 517.7 450.2 518.2 C448.4 518.7 447.3 519.3 445.2 520.1 C443.1 520.9 441.0 521.7 438.9 522.6 C436.8 523.5 435.3 524.1 433.9 525.1 C432.5 526.1 431.6 528.6 431.4 528.2 C431.2 527.8 433.1 524.2 432.9 522.8 C432.7 521.4 431.3 521.5 430.4 520.3 C429.5 519.1 428.8 518.3 427.9 516.5 C427.0 514.7 426.2 512.3 425.3 510.5 C424.4 508.7 423.9 507.7 422.8 506.5 C421.7 505.3 420.5 504.8 419.1 503.9 C417.7 503.0 416.6 502.3 415.3 501.4 C414.0 500.5 412.9 499.8 412.2 498.9 C411.5 498.0 411.4 497.5 411.5 496.4 C411.6 495.3 412.1 494.0 412.8 492.7 C413.5 491.4 415.3 490.7 415.3 489.5 C415.3 488.3 413.8 487.7 412.8 486.4 C411.8 485.1 410.2 484.2 409.7 482.6 C409.2 481.0 410.3 479.4 410.3 477.6 C410.3 475.8 409.8 474.2 409.7 472.6 C409.6 471.0 409.6 470.0 409.7 468.8 C409.8 467.6 410.5 467.7 410.3 466.3 C410.1 464.9 409.3 463.0 408.4 461.3 C407.5 459.6 406.1 457.9 405.3 456.9 C404.5 455.9 403.4 456.5 403.8 455.9 Z" fill="#f6f285"/>
<path d="M399 510.2 C399.5 508.8 401.6 508.9 402.8 507.7 C404.0 506.5 404.3 505.2 405.3 503.9 C406.3 502.6 407.1 501.7 408.4 500.8 C409.7 499.9 410.9 498.8 412.2 498.9 C413.5 499.0 414.0 500.5 415.3 501.4 C416.6 502.3 417.7 503.0 419.1 503.9 C420.5 504.8 421.7 505.3 422.8 506.5 C423.9 507.7 425.4 509.1 425.3 510.5 C425.2 511.9 423.3 512.5 422.5 514 C421.7 515.5 421.5 516.9 420.8 518.5 C420.1 520.1 419.2 521.3 418.5 523 C417.8 524.7 417.2 526.5 417 528 C416.8 529.5 417.9 530.6 417.6 531 C417.3 531.4 416.4 531.1 415.3 530.3 C414.2 529.5 412.9 527.9 411.5 526.5 C410.1 525.1 409.2 524.2 407.8 522.8 C406.4 521.4 405.4 520.4 404 519 C402.6 517.6 401.1 516.8 400.2 515.2 C399.3 513.6 398.5 511.6 399 510.2 Z" fill="#f3ec45"/>
<path d="M425.3 510.5 C424.3 510.0 423.3 512.5 422.5 514 C421.7 515.5 421.5 516.9 420.8 518.5 C420.1 520.1 419.2 521.3 418.5 523 C417.8 524.7 417.2 526.5 417 528 C416.8 529.5 417.4 529.7 417.6 531 C417.8 532.3 418.2 533.2 418.2 535.1 C418.2 537.0 417.5 539.1 417.6 541.4 C417.7 543.7 418.2 545.6 418.8 547.7 C419.4 549.8 419.8 550.9 420.7 552.7 C421.6 554.5 422.6 556.0 423.8 557.7 C425.0 559.4 425.8 560.8 427 562.1 C428.2 563.4 429.3 564.7 430.1 564.6 C430.9 564.5 430.8 562.8 431.4 561.5 C432.0 560.2 432.6 559.1 433.3 557.7 C434.0 556.3 434.2 555.1 435.1 553.9 C436.0 552.7 437.4 552.4 438.3 551.4 C439.2 550.4 440.1 549.7 440.2 548.3 C440.3 546.9 439.5 545.3 438.9 543.9 C438.3 542.5 437.9 542.0 437 540.8 C436.1 539.6 434.8 539.0 433.9 537.6 C433.0 536.2 432.5 534.9 432 533.2 C431.5 531.5 431.2 530.1 431.4 528.2 C431.6 526.3 433.1 524.2 432.9 522.8 C432.7 521.4 431.3 521.5 430.4 520.3 C429.5 519.1 428.8 518.3 427.9 516.5 C427.0 514.7 426.3 511.0 425.3 510.5 Z" fill="#f4ef6a"/>
<path d="M431.4 528.2 C431.7 526.7 432.5 526.1 433.9 525.1 C435.3 524.1 436.8 523.5 438.9 522.6 C441.0 521.7 443.1 520.9 445.2 520.1 C447.3 519.3 448.4 518.7 450.2 518.2 C452.0 517.7 453.6 517.3 455.2 517.5 C456.8 517.7 457.7 518.5 459 519.4 C460.3 520.3 461.3 521.1 462.1 522.6 C462.9 524.1 463.3 525.9 463.4 527.6 C463.5 529.3 463.4 530.5 462.8 532 C462.2 533.5 461.4 534.7 460.2 535.7 C459.0 536.7 458.1 536.9 456.5 537.6 C454.9 538.3 453.4 538.8 451.5 539.5 C449.6 540.2 448.3 540.9 446.4 541.4 C444.5 541.9 443.1 542.1 441.4 542 C439.7 541.9 438.4 541.6 437 540.8 C435.6 540.0 434.8 539.0 433.9 537.6 C433.0 536.2 432.5 534.9 432 533.2 C431.5 531.5 431.1 529.7 431.4 528.2 Z" fill="#db4b68"/>
<path d="M456 483 C456.9 483.1 457.1 485.2 458.75 486.25 C460.4 487.3 462.0 488.3 465 488.75 C468.0 489.2 470.9 489.0 475 488.75 C479.1 488.5 483.4 488.4 487.5 487.5 C491.6 486.6 493.8 485.1 497.5 483.75 C501.2 482.4 503.8 480.9 507.5 480 C511.2 479.1 513.8 478.5 517.5 478.75 C521.2 479.0 524.3 480.6 527.5 481.25 C530.7 481.9 533.9 481.1 535 482.5 C536.1 483.9 534.7 486.2 533.75 488.75 C532.8 491.3 531.1 493.7 530 496.25 C528.9 498.8 527.5 500.0 527.5 502.5 C527.5 505.0 530.0 507.7 530 510 C530.0 512.3 528.6 514.3 527.5 515 C526.4 515.7 525.4 513.8 523.9 513.8 C522.4 513.8 520.7 514.5 519.2 515 C517.7 515.5 516.9 515.6 515.5 516.3 C514.1 517.0 512.6 517.8 511.7 518.8 C510.8 519.8 511.1 521.2 510.4 521.9 C509.7 522.6 508.7 521.7 507.9 522.6 C507.1 523.5 506.9 525.6 506 527 C505.1 528.4 504.4 529.3 502.9 530.1 C501.4 530.9 499.7 531.3 497.9 531.4 C496.1 531.5 494.8 531.0 492.9 530.7 C491.0 530.4 489.7 530.0 487.8 529.5 C485.9 529.0 484.6 528.3 482.8 528.2 C481.0 528.1 479.6 528.5 477.8 528.8 C476.0 529.1 474.6 529.6 472.8 530.1 C471.0 530.6 469.6 531.1 467.8 531.4 C466.0 531.7 463.6 532.7 462.8 532 C462.0 531.3 463.5 529.3 463.4 527.6 C463.3 525.9 462.9 524.1 462.1 522.6 C461.3 521.1 459.6 520.6 459 519.4 C458.4 518.2 459.2 517.2 459 516 C458.8 514.8 457.6 514.3 457.7 513 C457.8 511.7 458.8 510.4 459.5 509 C460.2 507.6 461.2 506.8 461.7 505.2 C462.2 503.6 462.6 501.8 462.4 500.2 C462.2 498.6 461.4 497.6 460.5 496.4 C459.6 495.2 458.4 494.8 457.5 493.5 C456.6 492.2 456.1 491.0 455.5 489.5 C454.9 488.0 453.9 486.7 454 485.5 C454.1 484.3 455.1 482.9 456 483 Z" fill="#f7ae83"/>
<path d="M437 540.8 C438.6 537.0 438.3 542.5 438.9 543.9 C439.5 545.3 440.3 546.9 440.2 548.3 C440.1 549.7 439.2 550.4 438.3 551.4 C437.4 552.4 436.0 552.7 435.1 553.9 C434.2 555.1 434.0 556.3 433.3 557.7 C432.6 559.1 430.7 564.6 431.4 561.5 C432.1 558.4 435.2 544.4 437 540.8 C438.8 537.2 439.7 541.9 441.4 542 C443.1 542.1 444.5 541.9 446.4 541.4 C448.3 540.9 449.6 540.2 451.5 539.5 C453.4 538.8 454.9 538.3 456.5 537.6 C458.1 536.9 459.0 536.7 460.2 535.7 C461.4 534.7 461.4 532.8 462.8 532 C464.2 531.2 466.0 531.7 467.8 531.4 C469.6 531.1 471.0 530.6 472.8 530.1 C474.6 529.6 476.0 529.1 477.8 528.8 C479.6 528.5 481.0 528.1 482.8 528.2 C484.6 528.3 485.9 529.0 487.8 529.5 C489.7 530.0 491.0 530.4 492.9 530.7 C494.8 531.0 496.1 531.5 497.9 531.4 C499.7 531.3 501.4 530.9 502.9 530.1 C504.4 529.3 505.1 528.4 506 527 C506.9 525.6 507.1 523.5 507.9 522.6 C508.7 521.7 509.9 522.0 510.4 521.9 C510.9 521.8 510.2 521.3 510.4 521.9 C510.6 522.5 511.6 523.6 511.7 525.1 C511.8 526.6 511.6 528.3 511.1 530.1 C510.6 531.9 509.8 533.6 509.2 535.1 C508.6 536.6 508.8 537.8 507.9 538.3 C507.0 538.8 505.8 537.9 504.2 537.6 C502.6 537.3 501.0 536.4 499.1 536.4 C497.2 536.4 495.9 537.3 494.1 537.6 C492.3 537.9 490.7 538.0 489.1 538.3 C487.5 538.6 486.7 538.9 485.3 539.5 C483.9 540.1 483.0 540.8 481.6 541.4 C480.2 542.0 479.0 542.0 477.8 542.7 C476.6 543.4 475.3 544.2 475.3 545.2 C475.3 546.2 476.9 547.4 477.8 548.3 C478.7 549.2 480.2 549.5 480.3 550.2 C480.4 550.9 479.3 552.1 478.4 552.1 C477.5 552.1 476.1 550.1 475.3 550.2 C474.5 550.3 473.9 551.7 474 552.7 C474.1 553.7 476.0 555.1 475.9 555.8 C475.8 556.5 474.3 557.0 473.4 556.5 C472.5 556.0 471.8 554.5 470.9 553.3 C470.0 552.1 469.2 551.2 468.4 550.2 C467.6 549.2 467.4 548.2 466.5 547.7 C465.6 547.2 464.3 547.1 463.4 547.7 C462.5 548.3 462.0 549.4 461.5 550.8 C461.0 552.2 460.7 553.7 460.9 555.2 C461.1 556.7 462.0 557.6 462.8 559 C463.6 560.4 464.3 561.4 465.3 562.7 C466.3 564.0 467.4 564.9 468.4 565.9 C469.4 566.9 470.2 567.5 470.9 568.4 C471.6 569.3 472.4 570.3 472.2 570.9 C472.0 571.5 470.5 571.0 469.7 571.5 C468.9 572.0 467.5 572.7 467.8 573.4 C468.1 574.1 470.1 574.6 471.5 575.3 C472.9 576.0 473.9 576.5 475.3 577.2 C476.7 577.9 477.7 578.3 479.1 579 C480.5 579.7 481.4 580.1 482.8 580.9 C484.2 581.7 485.4 582.4 486.6 583.4 C487.8 584.4 488.1 585.6 489.1 586.6 C490.1 587.6 492.0 588.4 492.2 589.1 C492.4 589.8 491.4 590.4 490.4 590.3 C489.4 590.2 488.0 589.2 486.6 588.5 C485.2 587.8 484.2 587.4 482.8 586.6 C481.4 585.8 480.5 584.9 479.1 584.1 C477.7 583.3 476.7 582.9 475.3 582.2 C473.9 581.5 472.8 580.5 471.5 580.3 C470.2 580.1 468.4 580.3 468.4 580.9 C468.4 581.5 470.2 582.5 471.5 583.4 C472.8 584.3 473.9 585.0 475.3 585.9 C476.7 586.8 477.9 587.5 479.1 588.5 C480.3 589.5 481.0 591.1 481.6 591.6 C482.2 592.1 482.1 590.8 482.5 591.2 C482.9 591.6 484.7 593.6 483.8 593.8 C482.9 594.0 480.0 593.4 477.5 592.5 C475.0 591.6 472.8 589.7 470 588.8 C467.2 587.9 465.2 588.0 462.5 587.5 C459.8 587.0 457.8 586.7 455 586.2 C452.2 585.7 448.6 584.2 447.5 585 C446.4 585.8 449.3 589.7 448.9 590.3 C448.5 590.9 446.3 589.4 445.2 588.5 C444.1 587.6 443.5 586.6 442.7 585.3 C441.9 584.0 441.0 582.8 440.8 581.6 C440.6 580.4 441.7 579.7 441.4 579 C441.1 578.3 439.8 578.6 438.9 577.8 C438.0 577.0 437.4 575.9 436.4 574.7 C435.4 573.5 434.2 572.8 433.3 571.5 C432.4 570.2 432.0 569.1 431.4 567.8 C430.8 566.5 429.1 569.6 430.1 564.6 C431.1 559.6 435.4 544.6 437 540.8 Z" fill="#fdd80a"/>
<path d="M445 593.8 C445.9 591.7 449.8 590.7 452.5 590 C455.2 589.3 457.0 589.5 460 590 C463.0 590.5 466.1 590.7 468.8 592.5 C471.6 594.3 473.6 597.9 475 600 C476.4 602.1 477.1 603.1 476.2 603.8 C475.3 604.5 470.7 602.4 470 603.8 C469.3 605.2 471.8 608.7 472.5 611.2 C473.2 613.7 474.5 617.0 473.8 617.5 C473.1 618.0 470.2 613.6 468.8 613.8 C467.4 614.0 467.1 617.7 466.2 618.8 C465.3 619.9 465.2 621.4 463.8 620 C462.4 618.6 460.4 612.6 458.8 611.2 C457.2 609.8 456.4 613.2 455 612.5 C453.6 611.8 452.6 609.6 451.2 607.5 C449.8 605.4 448.6 603.7 447.5 601.2 C446.4 598.7 444.1 595.9 445 593.8 Z" fill="#fdd80a"/>
<path d="M487 639.5 C488.5 638.8 491.7 638.7 495 638.8 C498.3 638.9 501.3 639.6 505 640 C508.7 640.4 511.3 641.3 515 641.2 C518.7 641.1 522.5 639.9 525 639.5 C527.5 639.1 528.3 638.2 528.8 638.8 C529.3 639.3 529.1 641.6 527.5 642.5 C525.9 643.4 522.8 643.1 520 643.8 C517.2 644.5 514.8 645.6 512.5 646.2 C510.2 646.8 509.8 647.4 507.5 647 C505.2 646.6 502.8 644.4 500 643.8 C497.2 643.2 494.9 644.0 492.5 643.8 C490.1 643.6 488.0 643.3 487 642.5 C486.0 641.7 485.5 640.2 487 639.5 Z" fill="#fdd80a"/>
<path d="M505.3 566.3 C505.6 565.5 508.5 563.7 509.8 564 C511.1 564.3 512.5 566.7 512.6 567.8 C512.7 568.9 511.4 570.0 510.6 570.1 C509.8 570.2 509.0 569.0 508 568.3 C507.0 567.6 505.0 567.1 505.3 566.3 Z" fill="#fdd80a"/>
<path d="M496.5 556.1 L498.9 555.4 L499.2 557.2 L497.1 557.5 Z" fill="#fdd80a"/>
<path d="M510.6 578.4 L513.6 579.5 L513.2 583.5 L511.4 582.2 Z" fill="#fdd80a"/>
<path d="M488.3 542.8 L490.1 542.5 L489.8 544.3 Z" fill="#fdd80a"/>
<path d="M506.8 606.5 L509.1 605.8 L508.3 608.4 Z" fill="#fdd80a"/>
<path d="M488.3 588 L492.4 589.1 L491.6 591.4 L488.9 590.1 Z" fill="#fdd80a"/>
<path d="M495.9 592.1 L498.4 592.9 L497.7 594.7 Z" fill="#fdd80a"/>
<path d="M512.5 522.5 C514.3 519.8 516.6 518.7 520 517.5 C523.4 516.3 527.1 515.7 531.2 516.2 C535.3 516.7 538.6 519.5 542.5 520 C546.4 520.5 548.4 519.0 552.5 518.8 C556.6 518.6 561.3 519.3 565 518.8 C568.7 518.3 570.2 518.0 572.5 516.2 C574.8 514.4 575.2 511.6 577.5 508.8 C579.8 506.1 581.8 503.7 585 501.2 C588.2 498.7 591.3 496.8 595 495 C598.7 493.2 601.3 492.6 605 491.2 C608.7 489.8 612.2 487.5 615 487.5 C617.8 487.5 617.7 490.7 620 491.2 C622.3 491.7 624.8 489.5 627.5 490 C630.2 490.5 632.2 493.6 635 493.8 C637.8 494.0 639.8 491.4 642.5 491.2 C645.2 491.0 646.8 492.5 650 492.5 C653.2 492.5 656.3 491.7 660 491.2 C663.7 490.7 666.8 491.1 670 490 C673.2 488.9 674.8 486.6 677.5 485 C680.2 483.4 682.2 482.8 685 481.2 C687.8 479.6 689.9 477.5 692.5 476.2 C695.1 474.9 697.8 474.4 699 474 C700.2 473.6 697.7 474.3 698.8 473.8 C699.9 473.3 702.5 471.9 705 471.2 C707.5 470.5 709.8 470.4 712.5 470 C715.2 469.6 717.7 468.3 720 468.8 C722.3 469.3 722.7 470.9 725 472.5 C727.3 474.1 730.0 475.7 732.5 477.5 C735.0 479.3 736.7 481.9 738.8 482.5 C740.9 483.1 742.1 481.8 743.8 480.5 C745.5 479.2 746.3 476.5 748 475.5 C749.7 474.5 752.2 472.8 753 475 C753.8 477.2 752.8 483.6 752.5 487.5 C752.2 491.4 751.0 493.7 751.5 496.2 C752.0 498.7 754.1 499.1 755 501.2 C755.9 503.3 756.2 505.4 756.2 507.5 C756.2 509.6 754.5 510.7 755 512.5 C755.5 514.3 757.0 515.4 758.8 517.5 C760.6 519.6 763.6 522.0 765 523.8 C766.4 525.6 766.4 526.1 766.2 527.5 C766.0 528.9 765.4 530.7 763.8 531.2 C762.2 531.7 760.0 529.8 757.5 530 C755.0 530.2 752.8 531.4 750 532.5 C747.2 533.6 745.0 535.0 742.5 536.2 C740.0 537.4 738.5 537.9 736.2 538.8 C733.9 539.7 732.5 540.1 730 541.2 C727.5 542.3 725.2 543.4 722.5 545 C719.8 546.6 717.8 547.9 715 550 C712.2 552.1 710.2 553.9 707.5 556.2 C704.8 558.5 702.8 560.4 700 562.5 C697.2 564.6 695.2 565.9 692.5 567.5 C689.8 569.1 689.1 570.7 685 571.2 C680.9 571.7 673.7 569.8 670 570 C666.3 570.2 666.6 571.6 665 572.5 C663.4 573.4 661.7 573.2 661.2 575 C660.7 576.8 662.7 579.5 662.5 582.5 C662.3 585.5 661.2 590.3 660 591.2 C658.8 592.1 657.3 589.6 656.2 587.5 C655.1 585.4 654.0 582.3 653.8 580 C653.6 577.7 655.7 575.5 655 575 C654.3 574.5 652.3 576.1 650 577.5 C647.7 578.9 645.2 580.9 642.5 582.5 C639.8 584.1 637.3 584.4 635 586.2 C632.7 588.0 631.8 590.7 630 592.5 C628.2 594.3 627.8 594.6 625 596.2 C622.2 597.8 618.2 600.5 615 601.2 C611.8 601.9 610.2 601.1 607.5 600 C604.8 598.9 602.8 596.1 600 595 C597.2 593.9 595.2 593.8 592.5 593.8 C589.8 593.8 587.1 593.9 585 595 C582.9 596.1 581.9 597.7 581.2 600 C580.5 602.3 582.6 605.4 581.2 607.5 C579.8 609.6 576.3 611.0 573.8 611.2 C571.3 611.4 570.0 610.2 567.5 608.8 C565.0 607.4 562.8 605.2 560 603.8 C557.2 602.4 554.8 600.8 552.5 601.2 C550.2 601.6 549.3 606.4 547.5 606.2 C545.7 606.0 544.1 600.7 542.5 600 C540.9 599.3 540.0 603.4 538.8 602.5 C537.6 601.6 537.1 597.1 536.2 595 C535.3 592.9 534.9 593.0 533.8 591.2 C532.7 589.4 531.6 586.6 530 585 C528.4 583.4 526.8 583.6 525 582.5 C523.2 581.4 520.2 581.1 520 578.8 C519.8 576.5 523.3 572.8 523.8 570 C524.3 567.2 523.7 565.4 522.5 563.8 C521.3 562.2 519.3 562.8 517.5 561.2 C515.7 559.6 513.0 557.3 512.5 555 C512.0 552.7 515.2 551.3 515 548.8 C514.8 546.3 512.1 544.2 511.2 541.2 C510.3 538.2 509.8 535.9 510 532.5 C510.2 529.1 510.7 525.2 512.5 522.5 Z" fill="#cc3527"/>
<path d="M528.1 532.9 C529.8 531.8 531.3 530.9 534.1 529.9 C536.9 528.9 540.3 527.9 543.2 527.6 C546.1 527.3 548.6 527.6 550.1 528.3 C551.6 529.0 551.9 530.4 551.6 531.4 C551.3 532.4 548.9 532.7 548.5 533.7 C548.1 534.7 550.0 535.7 549.3 536.7 C548.6 537.7 546.7 538.7 544.8 539 C542.9 539.3 540.9 537.9 538.7 538.2 C536.5 538.5 534.3 539.7 532.6 540.5 C530.9 541.3 530.8 542.7 529.6 542.8 C528.4 542.9 527.1 541.0 525.8 541.3 C524.5 541.6 524.0 543.5 522.7 544.3 C521.4 545.1 520.1 544.9 518.9 545.8 C517.7 546.7 516.9 548.7 515.9 549.1 C514.9 549.5 513.2 549.1 513.5 548.2 C513.8 547.3 515.8 545.9 517.4 544.3 C519.0 542.7 520.6 541.2 522 539.7 C523.4 538.2 523.9 537.1 525 535.9 C526.1 534.7 526.4 534.0 528.1 532.9 Z" fill="#ffffff" stroke="none"/>
<path d="M667.5 445 C668.6 444.1 671.8 443.1 675 442.5 C678.2 441.9 680.9 441.8 685 442 C689.1 442.2 693.4 443.2 697.5 443.8 C701.6 444.4 703.8 444.3 707.5 445 C711.2 445.7 714.3 446.4 717.5 447.5 C720.7 448.6 722.5 450.0 725 451.2 C727.5 452.4 728.9 454.0 731.2 453.8 C733.5 453.6 735.0 450.9 737.5 450 C740.0 449.1 742.2 448.8 745 448.8 C747.8 448.8 750.2 448.9 752.5 450 C754.8 451.1 755.7 453.4 757.5 455 C759.3 456.6 761.3 457.0 762.5 458.8 C763.7 460.6 762.4 462.9 763.8 465 C765.2 467.1 769.1 468.2 770 470 C770.9 471.8 770.2 473.9 768.8 475 C767.4 476.1 765.0 476.4 762.5 476.2 C760.0 476.0 757.5 474.0 755 473.8 C752.5 473.6 750.6 473.9 748.8 475 C747.0 476.1 746.8 478.6 745 480 C743.2 481.4 741.1 483.0 738.8 482.5 C736.5 482.0 735.0 479.3 732.5 477.5 C730.0 475.7 727.3 474.1 725 472.5 C722.7 470.9 722.3 469.3 720 468.8 C717.7 468.3 715.2 469.6 712.5 470 C709.8 470.4 707.5 470.5 705 471.2 C702.5 471.9 700.2 474.5 698.8 473.8 C697.4 473.1 698.4 470.0 697.5 467.5 C696.6 465.0 695.9 462.5 693.8 460 C691.7 457.5 689.6 455.6 686.2 453.8 C682.8 452.0 678.2 451.2 675 450 C671.8 448.8 670.2 448.4 668.8 447.5 C667.4 446.6 666.4 445.9 667.5 445 Z" fill="#f5f07c"/>
<path d="M755.9 474.8 C756.6 474.4 760.2 476.3 762.7 475.5 C765.2 474.7 766.9 470.8 769.6 470.2 C772.3 469.6 774.7 471.9 777.2 472.5 C779.7 473.1 781.5 474.1 783.2 473.3 C784.9 472.5 785.3 469.7 786.3 468 C787.3 466.3 786.8 464.2 788.5 464.2 C790.2 464.2 793.0 466.2 795.4 468 C797.8 469.8 799.0 472.3 801.5 474 C804.0 475.7 806.1 476.1 809 477.1 C811.9 478.1 816.8 478.3 817.4 479.3 C818.0 480.3 813.8 481.4 812.1 482.4 C810.4 483.4 809.1 483.2 808.3 484.7 C807.5 486.2 807.5 488.2 807.5 490.7 C807.5 493.2 808.0 495.5 808.3 498.3 C808.6 501.1 808.7 503.3 809 505.9 C809.3 508.5 810.6 511.2 809.8 512.7 C809.0 514.2 806.7 515.0 804.5 514.3 C802.3 513.6 798.5 511.1 797.7 508.9 C796.9 506.7 799.4 504.9 799.9 502.1 C800.4 499.3 800.7 496.4 800.7 493.8 C800.7 491.2 801.0 488.4 799.9 487.7 C798.8 487.0 796.5 488.6 794.6 490 C792.7 491.4 791.0 492.4 789.3 495.3 C787.6 498.2 786.9 504.5 785.5 505.9 C784.1 507.3 783.2 503.9 781.7 502.9 C780.2 501.9 778.7 501.4 777.2 500.6 C775.7 499.8 774.5 499.4 773.4 498.3 C772.3 497.2 771.8 496.0 771.1 494.5 C770.4 493.0 770.4 491.7 769.6 490 C768.8 488.3 767.8 486.9 766.5 485.4 C765.2 483.9 764.1 483.0 762.7 481.6 C761.3 480.2 760.1 479.0 758.9 477.8 C757.7 476.6 755.2 475.2 755.9 474.8 Z" fill="#a51d21"/>
<path d="M744.5 492.2 C744.8 489.8 746.3 485.5 747.6 482.4 C748.9 479.3 749.9 476.9 751.4 475.5 C752.9 474.1 754.5 474.2 755.9 474.8 C757.3 475.4 757.7 477.2 758.9 478.6 C760.1 480.0 761.3 481.0 762.7 482.4 C764.1 483.8 765.2 484.7 766.5 486.2 C767.8 487.7 768.8 489.0 769.6 490.7 C770.4 492.4 770.3 493.8 771.1 495.3 C771.9 496.8 772.7 498.0 774.1 499.1 C775.5 500.2 777.0 500.4 778.7 501.4 C780.4 502.4 781.8 502.7 783.2 504.4 C784.6 506.1 785.3 508.4 786.3 510.5 C787.3 512.6 788.8 515.5 788.5 515.8 C788.2 516.1 786.3 513.5 784.8 512 C783.3 510.5 782.0 508.8 780.2 507.4 C778.4 506.0 776.8 505.4 774.9 504.4 C773.0 503.4 771.5 503.1 769.6 502.1 C767.7 501.1 766.5 499.9 764.3 499.1 C762.1 498.3 759.9 498.0 757.4 497.6 C754.9 497.2 752.7 497.2 750.6 496.8 C748.5 496.4 747.1 496.1 746 495.3 C744.9 494.5 744.2 494.6 744.5 492.2 Z" fill="#d93b36"/>
<path d="M768.8 504.4 C769.4 503.8 771.6 504.6 773.4 505.1 C775.2 505.7 776.9 506.3 778.7 507.4 C780.5 508.5 781.7 509.7 783.2 511.2 C784.7 512.7 786.0 514.8 787 515.8 C788.0 516.8 788.9 516.7 788.5 516.8 C788.1 516.9 786.3 517.0 784.8 516.5 C783.3 516.0 782.0 515.3 780.2 514.3 C778.4 513.3 776.7 512.3 774.9 511.2 C773.1 510.1 771.4 509.4 770.3 508.2 C769.2 507.0 768.2 505.0 768.8 504.4 Z" fill="#a51d21"/>
<path d="M627.5 622.5 C628.0 621.1 632.2 619.3 635 617.5 C637.8 615.7 639.8 614.4 642.5 612.5 C645.2 610.6 649.1 606.8 650 607 C650.9 607.2 648.2 611.6 647.5 613.8 C646.8 616.0 647.6 617.2 646.2 618.8 C644.8 620.4 642.5 621.4 640 622.5 C637.5 623.6 634.8 625.0 632.5 625 C630.2 625.0 627.0 623.9 627.5 622.5 Z" fill="#fbc688"/>
<path d="M311.8 296.4 L313.8 295.9 L312.8 299.9 L311.3 300.9 Z" fill="#2eb24d"/>
<path d="M420.3 504.6 L426.6 505.2 L431.6 504 L436.6 502.7 L441.7 504 L446.7 506.5 L450.4 510.2 L452 512.5 L450.4 514 L446.7 516.5" fill="none" stroke-width="0.7"/>
<path d="M268.6 182 L287.2 176.5 L291.1 179.5 L279.8 183.9 Z" fill="#ffffff" stroke="none"/>
<path d="M267.4 190.4 L284.2 183.9 L288.2 187.4 L274.3 193.8 Z" fill="#ffffff" stroke="none"/>
<path d="M269.4 205.2 L279.8 195.3 L283.2 198.3 L274.3 209.2 Z" fill="#ffffff" stroke="none"/>
<path d="M310.7 145.8 L324.8 141.4 L325.8 144.8 L314.4 150.3 Z" fill="#ffffff" stroke="none"/>
<path d="M292.1 165.1 L300.8 159.7 L302.5 162.7 L294.6 167.6 Z" fill="#ffffff" stroke="none"/>
<circle cx="292.5" cy="435.5" r="2.7" fill="#e6516f" stroke-width="0.7"/>
<circle cx="257.3" cy="487.3" r="2.6" fill="#e6516f" stroke-width="0.7"/>
<circle cx="324.5" cy="491.5" r="2.6" fill="#e6516f" stroke-width="0.7"/>
<circle cx="178.3" cy="502.5" r="3" fill="#f6f08a" stroke-width="0.7"/>
<path d="M348 631 L351.3 631.8 L355.6 633.7 L353.8 635.2 L350 634.6 Z" fill="#0c8a4f" stroke="none"/>
</g>
<text y="96.90" fill="#343031"><tspan x="35.59" font-size="19" textLength="9.93" lengthAdjust="spacingAndGlyphs">4</tspan><tspan x="45.31" font-size="19" textLength="10.77" lengthAdjust="spacingAndGlyphs">7</tspan><tspan x="56.27" font-size="14" textLength="8.15" lengthAdjust="spacingAndGlyphs" dy="0.2">%</tspan></text>
<text transform="translate(38.45 105.10) scale(0.9600 1)" font-size="7.4" fill="#262223">Iceland</text>
<text y="300.10" fill="#343031"><tspan x="97.09" font-size="19" textLength="9.93" lengthAdjust="spacingAndGlyphs">4</tspan><tspan x="106.81" font-size="19" textLength="10.77" lengthAdjust="spacingAndGlyphs">7</tspan><tspan x="117.77" font-size="14" textLength="8.15" lengthAdjust="spacingAndGlyphs" dy="0.2">%</tspan></text>
<text transform="translate(99.44 307.70) scale(0.9600 1)" font-size="7.4" fill="#262223">Ireland</text>
<text y="313.80" fill="#343031"><tspan x="161.78" font-size="19" textLength="10.12" lengthAdjust="spacingAndGlyphs">6</tspan><tspan x="171.48" font-size="19" textLength="10.12" lengthAdjust="spacingAndGlyphs">6</tspan><tspan x="181.97" font-size="14" textLength="8.15" lengthAdjust="spacingAndGlyphs" dy="0.2">%</tspan></text>
<text transform="translate(165.29 321.70) scale(0.9600 1)" font-size="7.4" fill="#262223">United</text>
<text transform="translate(161.52 328.70) scale(0.9600 1)" font-size="7.4" fill="#262223">Kingdom</text>
<text y="201.00" fill="#343031"><tspan x="287.58" font-size="19" textLength="10.12" lengthAdjust="spacingAndGlyphs">6</tspan><tspan x="297.42" font-size="19" textLength="9.96" lengthAdjust="spacingAndGlyphs">8</tspan><tspan x="307.77" font-size="14" textLength="8.15" lengthAdjust="spacingAndGlyphs" dy="0.2">%</tspan></text>
<text transform="translate(289.68 208.70) scale(0.9600 1)" font-size="7.4" fill="#262223">Norway</text>
<text y="240.10" fill="#343031"><tspan x="333.58" font-size="19" textLength="10.12" lengthAdjust="spacingAndGlyphs">6</tspan><tspan x="343.27" font-size="19" textLength="10.25" lengthAdjust="spacingAndGlyphs">2</tspan><tspan x="353.77" font-size="14" textLength="8.15" lengthAdjust="spacingAndGlyphs" dy="0.2">%</tspan></text>
<text transform="translate(334.63 247.00) scale(0.9600 1)" font-size="7.4" fill="#262223">Sweden</text>
<text y="181.90" fill="#343031"><tspan x="423.08" font-size="19" textLength="10.12" lengthAdjust="spacingAndGlyphs">6</tspan><tspan x="432.85" font-size="19" textLength="10.11" lengthAdjust="spacingAndGlyphs">9</tspan><tspan x="443.27" font-size="14" textLength="8.15" lengthAdjust="spacingAndGlyphs" dy="0.2">%</tspan></text>
<text transform="translate(425.29 190.10) scale(0.9600 1)" font-size="7.4" fill="#262223">Finland</text>
<text y="276.90" fill="#343031"><tspan x="283.58" font-size="19" textLength="10.12" lengthAdjust="spacingAndGlyphs">6</tspan><tspan x="293.42" font-size="19" textLength="9.96" lengthAdjust="spacingAndGlyphs">8</tspan><tspan x="303.77" font-size="14" textLength="8.15" lengthAdjust="spacingAndGlyphs" dy="0.2">%</tspan></text>
<text transform="translate(283.29 284.60) scale(0.9600 1)" font-size="7.4" fill="#262223">Denmark</text>
<text y="224.90" fill="#343031"><tspan x="440.33" font-size="19" textLength="9.85" lengthAdjust="spacingAndGlyphs">3</tspan><tspan x="449.99" font-size="19" textLength="9.85" lengthAdjust="spacingAndGlyphs">5</tspan><tspan x="460.27" font-size="14" textLength="8.15" lengthAdjust="spacingAndGlyphs" dy="0.2">%</tspan></text>
<text transform="translate(441.86 232.60) scale(0.9600 1)" font-size="7.4" fill="#262223">Estonia</text>
<text y="258.40" fill="#343031"><tspan x="449.35" font-size="19" textLength="4.77" lengthAdjust="spacingAndGlyphs">1</tspan><tspan x="454.01" font-size="19" textLength="10.77" lengthAdjust="spacingAndGlyphs">7</tspan><tspan x="464.97" font-size="14" textLength="8.15" lengthAdjust="spacingAndGlyphs" dy="0.2">%</tspan></text>
<text transform="translate(451.23 266.10) scale(0.9600 1)" font-size="7.4" fill="#262223">Latvia</text>
<text y="287.90" fill="#343031"><tspan x="434.07" font-size="19" textLength="10.25" lengthAdjust="spacingAndGlyphs">2</tspan><tspan x="444.03" font-size="19" textLength="9.85" lengthAdjust="spacingAndGlyphs">3</tspan><tspan x="454.27" font-size="14" textLength="8.15" lengthAdjust="spacingAndGlyphs" dy="0.2">%</tspan></text>
<text transform="translate(436.29 294.60) scale(0.9600 1)" font-size="7.4" fill="#262223">Lithuania</text>
<text y="318.40" fill="#343031"><tspan x="487.35" font-size="19" textLength="4.77" lengthAdjust="spacingAndGlyphs">1</tspan><tspan x="492.33" font-size="19" textLength="9.85" lengthAdjust="spacingAndGlyphs">3</tspan><tspan x="502.57" font-size="14" textLength="8.15" lengthAdjust="spacingAndGlyphs" dy="0.2">%</tspan></text>
<text transform="translate(487.79 325.60) scale(0.9600 1)" font-size="7.4" fill="#262223">Belarus</text>
<text y="377.00" fill="#343031"><tspan x="535.97" font-size="19" textLength="10.25" lengthAdjust="spacingAndGlyphs">2</tspan><tspan x="545.67" font-size="19" textLength="10.25" lengthAdjust="spacingAndGlyphs">2</tspan><tspan x="556.17" font-size="14" textLength="8.15" lengthAdjust="spacingAndGlyphs" dy="0.2">%</tspan></text>
<text transform="translate(537.64 384.10) scale(0.9600 1)" font-size="7.4" fill="#262223">Ukraine</text>
<text y="260.90" fill="#343031"><tspan x="659.85" font-size="19" textLength="4.77" lengthAdjust="spacingAndGlyphs">1</tspan><tspan x="664.76" font-size="19" textLength="10.47" lengthAdjust="spacingAndGlyphs">0</tspan><tspan x="675.67" font-size="14" textLength="8.15" lengthAdjust="spacingAndGlyphs" dy="0.2">%</tspan></text>
<text transform="translate(661.15 267.60) scale(0.9600 1)" font-size="7.4" fill="#262223">Russia</text>
<text y="328.40" fill="#343031"><tspan x="240.29" font-size="19" textLength="9.85" lengthAdjust="spacingAndGlyphs">5</tspan><tspan x="249.96" font-size="19" textLength="10.47" lengthAdjust="spacingAndGlyphs">0</tspan><tspan x="260.87" font-size="14" textLength="8.15" lengthAdjust="spacingAndGlyphs" dy="0.2">%</tspan></text>
<text transform="translate(248.46 334.60) scale(0.9600 1)" font-size="7.4" fill="#262223">The</text>
<text transform="translate(235.18 341.60) scale(0.9600 1)" font-size="7.4" fill="#262223">Netherlands</text>
<text y="362.90" fill="#343031"><tspan x="282.09" font-size="19" textLength="9.93" lengthAdjust="spacingAndGlyphs">4</tspan><tspan x="291.81" font-size="19" textLength="10.77" lengthAdjust="spacingAndGlyphs">7</tspan><tspan x="302.77" font-size="14" textLength="8.15" lengthAdjust="spacingAndGlyphs" dy="0.2">%</tspan></text>
<text transform="translate(280.72 369.60) scale(0.9600 1)" font-size="7.4" fill="#262223">Germany</text>
<text y="368.40" fill="#343031"><tspan x="223.01" font-size="19" textLength="10.77" lengthAdjust="spacingAndGlyphs">7</tspan><tspan x="233.43" font-size="19" textLength="9.85" lengthAdjust="spacingAndGlyphs">3</tspan><tspan x="243.67" font-size="14" textLength="8.15" lengthAdjust="spacingAndGlyphs" dy="0.2">%</tspan></text>
<text transform="translate(222.61 375.60) scale(0.9600 1)" font-size="7.4" fill="#262223">Belgium</text>
<text y="398.40" fill="#343031"><tspan x="239.01" font-size="19" textLength="10.77" lengthAdjust="spacingAndGlyphs">7</tspan><tspan x="249.36" font-size="19" textLength="10.47" lengthAdjust="spacingAndGlyphs">0</tspan><tspan x="260.27" font-size="14" textLength="8.15" lengthAdjust="spacingAndGlyphs" dy="0.2">%</tspan></text>
<text transform="translate(234.19 405.60) scale(0.9600 1)" font-size="7.4" fill="#262223">Luxembourg</text>
<text y="351.90" fill="#343031"><tspan x="388.85" font-size="19" textLength="4.77" lengthAdjust="spacingAndGlyphs">1</tspan><tspan x="393.72" font-size="19" textLength="9.96" lengthAdjust="spacingAndGlyphs">8</tspan><tspan x="404.07" font-size="14" textLength="8.15" lengthAdjust="spacingAndGlyphs" dy="0.2">%</tspan></text>
<text transform="translate(389.88 358.60) scale(0.9600 1)" font-size="7.4" fill="#262223">Poland</text>
<text y="385.90" fill="#343031"><tspan x="343.57" font-size="19" textLength="10.25" lengthAdjust="spacingAndGlyphs">2</tspan><tspan x="353.28" font-size="19" textLength="10.12" lengthAdjust="spacingAndGlyphs">6</tspan><tspan x="363.77" font-size="14" textLength="8.15" lengthAdjust="spacingAndGlyphs" dy="0.2">%</tspan></text>
<text transform="translate(347.48 392.60) scale(0.9600 1)" font-size="7.4" fill="#262223">Czech</text>
<text transform="translate(343.48 399.60) scale(0.9600 1)" font-size="7.4" fill="#262223">Republic</text>
<text y="404.90" fill="#343031"><tspan x="395.33" font-size="19" textLength="9.85" lengthAdjust="spacingAndGlyphs">3</tspan><tspan x="404.96" font-size="19" textLength="10.47" lengthAdjust="spacingAndGlyphs">0</tspan><tspan x="415.87" font-size="14" textLength="8.15" lengthAdjust="spacingAndGlyphs" dy="0.2">%</tspan></text>
<text transform="translate(395.91 411.60) scale(0.9600 1)" font-size="7.4" fill="#262223">Slovakia</text>
<text y="423.40" fill="#343031"><tspan x="281.85" font-size="19" textLength="4.77" lengthAdjust="spacingAndGlyphs">1</tspan><tspan x="287.09" font-size="19" textLength="9.93" lengthAdjust="spacingAndGlyphs">4</tspan><tspan x="297.67" font-size="14" textLength="8.15" lengthAdjust="spacingAndGlyphs" dy="0.2">%</tspan></text>
<text transform="translate(273.51 430.60) scale(0.9600 1)" font-size="7.4" fill="#262223">Liechtenstein</text>
<text y="430.90" fill="#343031"><tspan x="337.29" font-size="19" textLength="9.85" lengthAdjust="spacingAndGlyphs">5</tspan><tspan x="346.96" font-size="19" textLength="10.47" lengthAdjust="spacingAndGlyphs">0</tspan><tspan x="357.87" font-size="14" textLength="8.15" lengthAdjust="spacingAndGlyphs" dy="0.2">%</tspan></text>
<text transform="translate(341.44 438.10) scale(0.9600 1)" font-size="7.4" fill="#262223">Austria</text>
<text y="435.90" fill="#343031"><tspan x="397.09" font-size="19" textLength="9.93" lengthAdjust="spacingAndGlyphs">4</tspan><tspan x="407.15" font-size="19" textLength="4.77" lengthAdjust="spacingAndGlyphs">1</tspan><tspan x="412.67" font-size="14" textLength="8.15" lengthAdjust="spacingAndGlyphs" dy="0.2">%</tspan></text>
<text transform="translate(396.29 442.60) scale(0.9600 1)" font-size="7.4" fill="#262223">Hungary</text>
<text y="444.90" fill="#343031"><tspan x="258.33" font-size="19" textLength="9.85" lengthAdjust="spacingAndGlyphs">3</tspan><tspan x="268.05" font-size="19" textLength="4.77" lengthAdjust="spacingAndGlyphs">1</tspan><tspan x="273.57" font-size="14" textLength="8.15" lengthAdjust="spacingAndGlyphs" dy="0.2">%</tspan></text>
<text transform="translate(251.71 452.60) scale(0.9600 1)" font-size="7.4" fill="#262223">Switzerland</text>
<text y="454.90" fill="#343031"><tspan x="333.59" font-size="19" textLength="9.93" lengthAdjust="spacingAndGlyphs">4</tspan><tspan x="343.56" font-size="19" textLength="10.47" lengthAdjust="spacingAndGlyphs">0</tspan><tspan x="354.47" font-size="14" textLength="8.15" lengthAdjust="spacingAndGlyphs" dy="0.2">%</tspan></text>
<text transform="translate(333.71 461.10) scale(0.9600 1)" font-size="7.4" fill="#262223">Slovenia</text>
<text y="460.90" fill="#343031"><tspan x="370.09" font-size="19" textLength="9.93" lengthAdjust="spacingAndGlyphs">4</tspan><tspan x="379.81" font-size="19" textLength="10.77" lengthAdjust="spacingAndGlyphs">7</tspan><tspan x="390.77" font-size="14" textLength="8.15" lengthAdjust="spacingAndGlyphs" dy="0.2">%</tspan></text>
<text transform="translate(373.37 467.60) scale(0.9600 1)" font-size="7.4" fill="#262223">Croatia</text>
<text y="483.40" fill="#343031"><tspan x="378.33" font-size="19" textLength="9.85" lengthAdjust="spacingAndGlyphs">3</tspan><tspan x="388.05" font-size="19" textLength="4.77" lengthAdjust="spacingAndGlyphs">1</tspan><tspan x="393.57" font-size="14" textLength="8.15" lengthAdjust="spacingAndGlyphs" dy="0.2">%</tspan></text>
<text transform="translate(376.53 489.60) scale(0.9600 1)" font-size="7.4" fill="#262223">Bosnia&amp;</text>
<text transform="translate(369.77 496.60) scale(0.9600 1)" font-size="7.4" fill="#262223">Herzegovina</text>
<text y="481.90" fill="#343031"><tspan x="416.07" font-size="19" textLength="10.25" lengthAdjust="spacingAndGlyphs">2</tspan><tspan x="425.92" font-size="19" textLength="9.96" lengthAdjust="spacingAndGlyphs">8</tspan><tspan x="436.27" font-size="14" textLength="8.15" lengthAdjust="spacingAndGlyphs" dy="0.2">%</tspan></text>
<text transform="translate(419.57 488.60) scale(0.9600 1)" font-size="7.4" fill="#262223">Serbia</text>
<text y="508.90" fill="#343031"><tspan x="423.07" font-size="19" textLength="10.25" lengthAdjust="spacingAndGlyphs">2</tspan><tspan x="432.92" font-size="19" textLength="9.96" lengthAdjust="spacingAndGlyphs">8</tspan><tspan x="443.27" font-size="14" textLength="8.15" lengthAdjust="spacingAndGlyphs" dy="0.2">%</tspan></text>
<text transform="translate(424.01 515.60) scale(0.9600 1)" font-size="7.4" fill="#262223">Kosovo</text>
<text y="521.40" fill="#343031"><tspan x="391.83" font-size="19" textLength="9.85" lengthAdjust="spacingAndGlyphs">3</tspan><tspan x="401.28" font-size="19" textLength="10.12" lengthAdjust="spacingAndGlyphs">6</tspan><tspan x="411.77" font-size="14" textLength="8.15" lengthAdjust="spacingAndGlyphs" dy="0.2">%</tspan></text>
<text transform="translate(386.40 528.60) scale(0.9600 1)" font-size="7.4" fill="#262223">Montenegro</text>
<text y="530.40" fill="#343031"><tspan x="440.35" font-size="19" textLength="4.77" lengthAdjust="spacingAndGlyphs">1</tspan><tspan x="445.35" font-size="19" textLength="4.77" lengthAdjust="spacingAndGlyphs">1</tspan><tspan x="450.87" font-size="14" textLength="8.15" lengthAdjust="spacingAndGlyphs" dy="0.2">%</tspan></text>
<text transform="translate(439.25 536.60) scale(0.9600 1)" font-size="7.4" fill="#262223">North</text>
<text transform="translate(430.33 543.60) scale(0.9600 1)" font-size="7.4" fill="#262223">Macedonia</text>
<text y="556.90" fill="#343031"><tspan x="412.33" font-size="19" textLength="9.85" lengthAdjust="spacingAndGlyphs">3</tspan><tspan x="422.05" font-size="19" textLength="4.77" lengthAdjust="spacingAndGlyphs">1</tspan><tspan x="427.57" font-size="14" textLength="8.15" lengthAdjust="spacingAndGlyphs" dy="0.2">%</tspan></text>
<text transform="translate(410.14 564.60) scale(0.9600 1)" font-size="7.4" fill="#262223">Albania</text>
<text y="577.90" fill="#343031"><tspan x="440.59" font-size="19" textLength="9.93" lengthAdjust="spacingAndGlyphs">4</tspan><tspan x="450.45" font-size="19" textLength="10.11" lengthAdjust="spacingAndGlyphs">9</tspan><tspan x="460.87" font-size="14" textLength="8.15" lengthAdjust="spacingAndGlyphs" dy="0.2">%</tspan></text>
<text transform="translate(443.33 584.60) scale(0.9600 1)" font-size="7.4" fill="#262223">Greece</text>
<text y="523.90" fill="#343031"><tspan x="318.07" font-size="19" textLength="10.25" lengthAdjust="spacingAndGlyphs">2</tspan><tspan x="327.77" font-size="19" textLength="10.25" lengthAdjust="spacingAndGlyphs">2</tspan><tspan x="338.27" font-size="14" textLength="8.15" lengthAdjust="spacingAndGlyphs" dy="0.2">%</tspan></text>
<text transform="translate(324.16 530.60) scale(0.9600 1)" font-size="7.4" fill="#262223">Italy</text>
<text y="473.90" fill="#343031"><tspan x="303.85" font-size="19" textLength="4.77" lengthAdjust="spacingAndGlyphs">1</tspan><tspan x="308.83" font-size="19" textLength="9.85" lengthAdjust="spacingAndGlyphs">3</tspan><tspan x="319.07" font-size="14" textLength="8.15" lengthAdjust="spacingAndGlyphs" dy="0.2">%</tspan></text>
<text transform="translate(309.75 480.60) scale(0.9600 1)" font-size="7.4" fill="#262223">San</text>
<text transform="translate(305.00 487.60) scale(0.9600 1)" font-size="7.4" fill="#262223">Marino</text>
<text y="476.90" fill="#343031"><tspan x="244.85" font-size="19" textLength="4.77" lengthAdjust="spacingAndGlyphs">1</tspan><tspan x="249.85" font-size="19" textLength="4.77" lengthAdjust="spacingAndGlyphs">1</tspan><tspan x="255.37" font-size="14" textLength="8.15" lengthAdjust="spacingAndGlyphs" dy="0.2">%</tspan></text>
<text transform="translate(241.72 483.60) scale(0.9600 1)" font-size="7.4" fill="#262223">Monaco</text>
<text y="431.40" fill="#343031"><tspan x="180.08" font-size="19" textLength="10.12" lengthAdjust="spacingAndGlyphs">6</tspan><tspan x="190.03" font-size="19" textLength="9.85" lengthAdjust="spacingAndGlyphs">3</tspan><tspan x="200.27" font-size="14" textLength="8.15" lengthAdjust="spacingAndGlyphs" dy="0.2">%</tspan></text>
<text transform="translate(183.31 437.60) scale(0.9600 1)" font-size="7.4" fill="#262223">France</text>
<text y="491.90" fill="#343031"><tspan x="166.07" font-size="19" textLength="10.25" lengthAdjust="spacingAndGlyphs">2</tspan><tspan x="175.92" font-size="19" textLength="9.96" lengthAdjust="spacingAndGlyphs">8</tspan><tspan x="186.27" font-size="14" textLength="8.15" lengthAdjust="spacingAndGlyphs" dy="0.2">%</tspan></text>
<text transform="translate(167.86 498.10) scale(0.9600 1)" font-size="7.4" fill="#262223">Andorra</text>
<text y="531.90" fill="#343031"><tspan x="21.58" font-size="19" textLength="10.12" lengthAdjust="spacingAndGlyphs">6</tspan><tspan x="31.28" font-size="19" textLength="10.12" lengthAdjust="spacingAndGlyphs">6</tspan><tspan x="41.77" font-size="14" textLength="8.15" lengthAdjust="spacingAndGlyphs" dy="0.2">%</tspan></text>
<text transform="translate(22.22 538.60) scale(0.9600 1)" font-size="7.4" fill="#262223">Portugal</text>
<text y="536.90" fill="#343031"><tspan x="86.58" font-size="19" textLength="10.12" lengthAdjust="spacingAndGlyphs">6</tspan><tspan x="96.55" font-size="19" textLength="4.77" lengthAdjust="spacingAndGlyphs">1</tspan><tspan x="102.07" font-size="14" textLength="8.15" lengthAdjust="spacingAndGlyphs" dy="0.2">%</tspan></text>
<text transform="translate(89.98 543.60) scale(0.9600 1)" font-size="7.4" fill="#262223">Spain</text>
<text y="452.90" fill="#343031"><tspan x="469.07" font-size="19" textLength="10.25" lengthAdjust="spacingAndGlyphs">2</tspan><tspan x="479.05" font-size="19" textLength="4.77" lengthAdjust="spacingAndGlyphs">1</tspan><tspan x="484.57" font-size="14" textLength="8.15" lengthAdjust="spacingAndGlyphs" dy="0.2">%</tspan></text>
<text transform="translate(466.49 459.60) scale(0.9600 1)" font-size="7.4" fill="#262223">Romania</text>
<text y="422.90" fill="#343031"><tspan x="511.35" font-size="19" textLength="4.77" lengthAdjust="spacingAndGlyphs">1</tspan><tspan x="516.59" font-size="19" textLength="9.93" lengthAdjust="spacingAndGlyphs">4</tspan><tspan x="527.17" font-size="14" textLength="8.15" lengthAdjust="spacingAndGlyphs" dy="0.2">%</tspan></text>
<text transform="translate(510.28 428.60) scale(0.9600 1)" font-size="7.4" fill="#262223">Moldova</text>
<text y="509.90" fill="#343031"><tspan x="478.07" font-size="19" textLength="10.25" lengthAdjust="spacingAndGlyphs">2</tspan><tspan x="487.96" font-size="19" textLength="10.47" lengthAdjust="spacingAndGlyphs">0</tspan><tspan x="498.87" font-size="14" textLength="8.15" lengthAdjust="spacingAndGlyphs" dy="0.2">%</tspan></text>
<text transform="translate(478.68 517.60) scale(0.9600 1)" font-size="7.4" fill="#262223">Bulgaria</text>
<text y="545.20" fill="#343031"><tspan x="606.49" font-size="19" textLength="9.85" lengthAdjust="spacingAndGlyphs">5</tspan><tspan x="616.77" font-size="14" textLength="8.15" lengthAdjust="spacingAndGlyphs" dy="0.2">%</tspan></text>
<text transform="translate(604.27 553.30) scale(0.9600 1)" font-size="7.4" fill="#262223">Turkey</text>
<text y="636.90" fill="#343031"><tspan x="620.07" font-size="19" textLength="10.25" lengthAdjust="spacingAndGlyphs">2</tspan><tspan x="630.03" font-size="19" textLength="9.85" lengthAdjust="spacingAndGlyphs">3</tspan><tspan x="640.27" font-size="14" textLength="8.15" lengthAdjust="spacingAndGlyphs" dy="0.2">%</tspan></text>
<text transform="translate(622.70 643.60) scale(0.9600 1)" font-size="7.4" fill="#262223">Cyprus</text>
<text y="461.90" fill="#343031"><tspan x="692.33" font-size="19" textLength="9.85" lengthAdjust="spacingAndGlyphs">3</tspan><tspan x="701.96" font-size="19" textLength="10.47" lengthAdjust="spacingAndGlyphs">0</tspan><tspan x="712.87" font-size="14" textLength="8.15" lengthAdjust="spacingAndGlyphs" dy="0.2">%</tspan></text>
<text transform="translate(694.68 468.60) scale(0.9600 1)" font-size="7.4" fill="#262223">Georgia</text>
<text y="493.90" fill="#343031"><tspan x="748.01" font-size="19" textLength="10.77" lengthAdjust="spacingAndGlyphs">7</tspan><tspan x="758.97" font-size="14" textLength="8.15" lengthAdjust="spacingAndGlyphs" dy="0.2">%</tspan></text>
<text transform="translate(742.27 500.10) scale(0.9600 1)" font-size="7.4" fill="#262223">Armenia</text>
<text y="482.90" fill="#343031"><tspan x="780.33" font-size="19" textLength="9.85" lengthAdjust="spacingAndGlyphs">3</tspan><tspan x="790.57" font-size="14" textLength="8.15" lengthAdjust="spacingAndGlyphs" dy="0.2">%</tspan></text>
<text transform="translate(772.44 489.60) scale(0.9600 1)" font-size="7.4" fill="#262223">Azerbaijan</text>
<text y="639.40" fill="#343031"><tspan x="356.15" font-size="19" textLength="10.11" lengthAdjust="spacingAndGlyphs">9</tspan><tspan x="365.96" font-size="19" textLength="10.47" lengthAdjust="spacingAndGlyphs">0</tspan><tspan x="376.87" font-size="14" textLength="8.15" lengthAdjust="spacingAndGlyphs" dy="0.2">%</tspan></text>
<text transform="translate(362.02 647.10) scale(0.9600 1)" font-size="7.4" fill="#262223">Malta</text>
<circle cx="146.5" cy="54" r="34.4" fill="#562583"/>
<text transform="translate(117.05 71.60) scale(0.9163 1)" font-size="46" fill="#ffffff" font-weight="bold">10</text>
<text transform="translate(162.39 48.30) scale(1.0295 1)" font-size="13.4" fill="#ffffff">th</text>
<g filter="url(#sh)" opacity="0.8">
<text y="102.6" font-weight="bold" fill="#4a4a4a" stroke="#4a4a4a" stroke-width="6" stroke-linejoin="round"><tspan x="164.35" font-size="64.5" textLength="42.66" lengthAdjust="spacingAndGlyphs">R</tspan><tspan x="207.51" font-size="64.5" textLength="46.07" lengthAdjust="spacingAndGlyphs">A</tspan><tspan x="250.60" font-size="64.5" textLength="29.90" lengthAdjust="spacingAndGlyphs">I</tspan><tspan x="275.17" font-size="64.5" textLength="58.59" lengthAdjust="spacingAndGlyphs">N</tspan><tspan x="331.69" font-size="64.5" textLength="44.41" lengthAdjust="spacingAndGlyphs">B</tspan><tspan x="378.00" font-size="64.5" textLength="43.66" lengthAdjust="spacingAndGlyphs">O</tspan><tspan x="428.24" font-size="64.5" textLength="62.13" lengthAdjust="spacingAndGlyphs">W</tspan></text>
</g>
<text y="100.8" font-weight="bold" fill="#ffffff" stroke="#ffffff" stroke-width="3" stroke-linejoin="round"><tspan x="163.55" font-size="64.5" textLength="42.66" lengthAdjust="spacingAndGlyphs">R</tspan><tspan x="206.71" font-size="64.5" textLength="46.07" lengthAdjust="spacingAndGlyphs">A</tspan><tspan x="249.80" font-size="64.5" textLength="29.90" lengthAdjust="spacingAndGlyphs">I</tspan><tspan x="274.37" font-size="64.5" textLength="58.59" lengthAdjust="spacingAndGlyphs">N</tspan><tspan x="330.89" font-size="64.5" textLength="44.41" lengthAdjust="spacingAndGlyphs">B</tspan><tspan x="377.20" font-size="64.5" textLength="43.66" lengthAdjust="spacingAndGlyphs">O</tspan><tspan x="427.44" font-size="64.5" textLength="62.13" lengthAdjust="spacingAndGlyphs">W</tspan></text>
<path d="M402.4 43.2 A33 33 0 0 1 415.5 47.4 L404.0 67.3 A10 10 0 0 0 400.0 66.1 Z" fill="#e3e6e3"/>
<path d="M373.0 51.8 A35.5 35.5 0 0 1 397.8 40.5 L398.3 55.5 A20.5 20.5 0 0 0 384.0 62.0 Z" fill="#6d3f98"/>
<path d="M397.9 43.5 A32.5 32.5 0 0 1 403.5 43.8 L401.9 55.7 A20.5 20.5 0 0 0 398.3 55.5 Z" fill="#1ea3dc"/>
<path d="M364.0 77.2 A35 35 0 0 1 370.3 55.9 L374.4 58.8 A30 30 0 0 0 369.0 77.0 Z" fill="#3aa648"/>
<path d="M393.2 117.6 A42 42 0 0 1 368.8 105.2 L377.4 96.8 A30 30 0 0 0 394.8 105.7 Z" fill="#f6e61f"/>
<path d="M437.6 70.6 A39 39 0 0 1 427.5 102.6 L420.9 96.5 A30 30 0 0 0 428.7 71.8 Z" fill="#0f72b5"/>
<path d="M385.2 104.3 A31.5 31.5 0 0 1 376.0 54.5 L384.0 62.0 A20.5 20.5 0 0 0 390.0 94.4 Z" fill="#d9452f"/>
<path d="M410.9 106.3 A32.6 32.6 0 0 1 384.7 105.3 L390.0 94.4 A20.5 20.5 0 0 0 406.5 95.1 Z" fill="#f3b10f"/>
<path d="M416.3 102.7 A31.8 31.8 0 0 1 410.7 105.6 L406.5 95.1 A20.5 20.5 0 0 0 410.2 93.2 Z" fill="#92c13d"/>
<path d="M418.8 50.7 A32.1 32.1 0 0 1 416.5 102.9 L410.2 93.2 A20.5 20.5 0 0 0 411.6 59.8 Z" fill="#f0921f"/>
<path d="M408.6 57.9 A20.5 20.5 0 1 1 401.1 55.6 L399.0 76.0 Z" fill="#ffffff"/>
<path d="M399.0 76.0 L411.6 47.7 L415.4 49.7 Z" fill="#fafafa"/>
<circle cx="399" cy="76" r="10.3" fill="url(#hole)"/>
<text x="165" y="125.3" font-family="&quot;Liberation Serif&quot;, serif" font-style="italic" font-weight="bold" font-size="9.5" fill="#b5525c" textLength="16" lengthAdjust="spacingAndGlyphs">0%</text>
<text x="188" y="125.3" font-family="&quot;Liberation Serif&quot;, serif" font-style="italic" font-weight="bold" font-size="9.5" fill="#ee8d93" textLength="21" lengthAdjust="spacingAndGlyphs">10%</text>
<text x="220" y="125.3" font-family="&quot;Liberation Serif&quot;, serif" font-style="italic" font-weight="bold" font-size="9.5" fill="#f9c3a6" textLength="21" lengthAdjust="spacingAndGlyphs">20%</text>
<text x="250" y="125.3" font-family="&quot;Liberation Serif&quot;, serif" font-style="italic" font-weight="bold" font-size="9.5" fill="#f9f0a8" textLength="22" lengthAdjust="spacingAndGlyphs">30%</text>
<text x="280" y="125.3" font-family="&quot;Liberation Serif&quot;, serif" font-style="italic" font-weight="bold" font-size="9.5" fill="#fae56a" textLength="22" lengthAdjust="spacingAndGlyphs">40%</text>
<text x="310" y="125.3" font-family="&quot;Liberation Serif&quot;, serif" font-style="italic" font-weight="bold" font-size="9.5" fill="#d5e27a" textLength="22" lengthAdjust="spacingAndGlyphs">50%</text>
<text x="340" y="125.3" font-family="&quot;Liberation Serif&quot;, serif" font-style="italic" font-weight="bold" font-size="9.5" fill="#9ed29c" textLength="22" lengthAdjust="spacingAndGlyphs">60%</text>
<text x="368" y="125.3" font-family="&quot;Liberation Serif&quot;, serif" font-style="italic" font-weight="bold" font-size="9.5" fill="#76c38f" textLength="21" lengthAdjust="spacingAndGlyphs">70%</text>
<text x="397" y="125.3" font-family="&quot;Liberation Serif&quot;, serif" font-style="italic" font-weight="bold" font-size="9.5" fill="#3fa57a" textLength="22" lengthAdjust="spacingAndGlyphs">80%</text>
<text x="425" y="125.3" font-family="&quot;Liberation Serif&quot;, serif" font-style="italic" font-weight="bold" font-size="9.5" fill="#2c8f6a" textLength="22" lengthAdjust="spacingAndGlyphs">90%</text>
<text x="454" y="125.3" font-family="&quot;Liberation Serif&quot;, serif" font-style="italic" font-weight="bold" font-size="9.5" fill="#2e8466" textLength="28" lengthAdjust="spacingAndGlyphs">100%</text>
<circle cx="501" cy="46.2" r="3.6" fill="#e5202e"/>
<circle cx="511.5" cy="46.2" r="3.5" fill="#f3901d"/>
<circle cx="521.5" cy="45.7" r="3.2" fill="#fcd804"/>
<circle cx="530.5" cy="43.7" r="2.7" fill="#17a77e"/>
<circle cx="538.5" cy="39.2" r="2.2" fill="#15a4e0"/>
<circle cx="545.5" cy="33.2" r="1.7" fill="#8a4fa3"/>
<circle cx="501" cy="57.8" r="3.6" fill="#e5202e"/>
<circle cx="511.5" cy="57.8" r="3.5" fill="#f3901d"/>
<circle cx="521.5" cy="57.3" r="3.2" fill="#fcd804"/>
<circle cx="530.5" cy="56.2" r="2.7" fill="#17a77e"/>
<circle cx="538.5" cy="50.7" r="2.2" fill="#15a4e0"/>
<circle cx="545.5" cy="44.8" r="1.7" fill="#8a4fa3"/>
<circle cx="501" cy="69.0" r="3.6" fill="#e5202e"/>
<circle cx="511.5" cy="69.0" r="3.5" fill="#f3901d"/>
<circle cx="521.5" cy="68.5" r="3.2" fill="#fcd804"/>
<circle cx="530.5" cy="68.3" r="2.7" fill="#17a77e"/>
<circle cx="538.5" cy="61.8" r="2.2" fill="#15a4e0"/>
<circle cx="545.5" cy="56.0" r="1.7" fill="#8a4fa3"/>
<circle cx="501" cy="80.5" r="3.6" fill="#e5202e"/>
<circle cx="511.5" cy="80.5" r="3.5" fill="#f3901d"/>
<circle cx="521.5" cy="80.0" r="3.2" fill="#fcd804"/>
<circle cx="530.5" cy="80.7" r="2.7" fill="#17a77e"/>
<circle cx="538.5" cy="73.2" r="2.2" fill="#15a4e0"/>
<circle cx="545.5" cy="67.5" r="1.7" fill="#8a4fa3"/>
<text transform="translate(496.57 102.60) scale(1.1135 1)" font-size="15.2" fill="#562583" font-weight="bold">MAP</text>
<text x="586" y="57" font-size="24" fill="#562583" textLength="109" lengthAdjust="spacingAndGlyphs">MAY 2019</text>
<text x="586" y="75.5" font-size="10.6" font-weight="bold" fill="#262223" textLength="205" lengthAdjust="spacingAndGlyphs">Reflecting the legal and policy human rights</text>
<text x="586" y="89.8" font-size="10.6" font-weight="bold" fill="#262223" textLength="192" lengthAdjust="spacingAndGlyphs">situation of lesbian, gay, bisexual, trans</text>
<text x="586" y="104.1" font-size="10.6" font-weight="bold" fill="#262223" textLength="187" lengthAdjust="spacingAndGlyphs">and intersex (LGBTI) people in Europe</text>
<text x="824" y="75" font-size="8" fill="#2e8b5b" textLength="88" lengthAdjust="spacingAndGlyphs">respect of human rights,</text>
<text x="824" y="83.3" font-size="8" fill="#2e8b5b" textLength="42" lengthAdjust="spacingAndGlyphs">full equality</text>
<text transform="translate(824.11 126.80) scale(0.9500 1)" font-size="6.6" fill="#262223" font-weight="bold">1. Malta</text>
<text transform="translate(824.28 221.30) scale(0.9500 1)" font-size="6.6" fill="#262223" font-weight="bold">2. Belgium</text>
<text transform="translate(824.36 236.30) scale(0.9500 1)" font-size="6.6" fill="#262223" font-weight="bold">3. Luxembourg</text>
<text transform="translate(824.41 242.30) scale(0.9500 1)" font-size="6.6" fill="#262223" font-weight="bold">4. Finland</text>
<text transform="translate(824.31 248.30) scale(0.9500 1)" font-size="6.6" fill="#262223" font-weight="bold">5. Denmark, Norway</text>
<text transform="translate(824.23 255.00) scale(0.9500 1)" font-size="6.6" fill="#262223" font-weight="bold">7. Portugal, United Kingdom</text>
<text transform="translate(824.28 274.60) scale(0.9500 1)" font-size="6.6" fill="#262223" font-weight="bold">9. France</text>
<text transform="translate(824.11 281.30) scale(0.9500 1)" font-size="6.6" fill="#262223" font-weight="bold">10. Sweden</text>
<text transform="translate(824.11 287.70) scale(0.9500 1)" font-size="6.6" fill="#262223" font-weight="bold">11. Spain</text>
<text transform="translate(824.11 345.70) scale(0.9500 1)" font-size="6.6" fill="#262223" font-weight="bold">12. The Netherlands, Austria</text>
<text transform="translate(824.11 351.90) scale(0.9500 1)" font-size="6.6" fill="#262223" font-weight="bold">14. Greece</text>
<text transform="translate(824.11 363.10) scale(0.9500 1)" font-size="6.6" fill="#262223" font-weight="bold">15. Germany, Croatia, Ireland,</text>
<text transform="translate(824.08 369.10) scale(0.9500 1)" font-size="6.6" fill="#262223" font-weight="bold">Iceland</text>
<text transform="translate(824.11 394.00) scale(0.9500 1)" font-size="6.6" fill="#262223" font-weight="bold">19. Hungary</text>
<text transform="translate(824.28 400.50) scale(0.9500 1)" font-size="6.6" fill="#262223" font-weight="bold">20. Slovenia</text>
<text transform="translate(824.28 422.40) scale(0.9500 1)" font-size="6.6" fill="#262223" font-weight="bold">21. Montenegro</text>
<text transform="translate(824.28 428.60) scale(0.9500 1)" font-size="6.6" fill="#262223" font-weight="bold">22. Estonia</text>
<text transform="translate(824.28 443.60) scale(0.9500 1)" font-size="6.6" fill="#262223" font-weight="bold">23. Albania, Bosnia&amp;Herzegovina,</text>
<text transform="translate(824.32 449.50) scale(0.9500 1)" font-size="6.6" fill="#262223" font-weight="bold">Switzerland</text>
<text transform="translate(824.28 456.30) scale(0.9500 1)" font-size="6.6" fill="#262223" font-weight="bold">26. Georgia, Slovakia</text>
<text transform="translate(824.28 464.30) scale(0.9500 1)" font-size="6.6" fill="#262223" font-weight="bold">28. Kosovo*, Andorra, Serbia</text>
<text transform="translate(824.36 477.80) scale(0.9500 1)" font-size="6.6" fill="#262223" font-weight="bold">31. Czech Republic</text>
<text transform="translate(824.36 493.30) scale(0.9500 1)" font-size="6.6" fill="#262223" font-weight="bold">32. Lithuania, Cyprus</text>
<text transform="translate(824.36 500.30) scale(0.9500 1)" font-size="6.6" fill="#262223" font-weight="bold">34. Italy, Ukraine</text>
<text transform="translate(824.36 506.30) scale(0.9500 1)" font-size="6.6" fill="#262223" font-weight="bold">36. Romania</text>
<text transform="translate(824.36 512.10) scale(0.9500 1)" font-size="6.6" fill="#262223" font-weight="bold">37. Bulgaria</text>
<text transform="translate(824.36 520.90) scale(0.9500 1)" font-size="6.6" fill="#262223" font-weight="bold">38. Poland</text>
<text transform="translate(824.36 527.30) scale(0.9500 1)" font-size="6.6" fill="#262223" font-weight="bold">39. Latvia</text>
<text transform="translate(824.41 542.80) scale(0.9500 1)" font-size="6.6" fill="#262223" font-weight="bold">40. Moldova, Liechtenstein</text>
<text transform="translate(824.41 549.30) scale(0.9500 1)" font-size="6.6" fill="#262223" font-weight="bold">42. Belarus, San Marino</text>
<text transform="translate(824.41 559.30) scale(0.9500 1)" font-size="6.6" fill="#262223" font-weight="bold">44. Monaco, North Macedonia</text>
<text transform="translate(824.41 565.30) scale(0.9500 1)" font-size="6.6" fill="#262223" font-weight="bold">46. Russia</text>
<text transform="translate(824.41 582.30) scale(0.9500 1)" font-size="6.6" fill="#262223" font-weight="bold">47. Armenia</text>
<text transform="translate(824.41 592.50) scale(0.9500 1)" font-size="6.6" fill="#262223" font-weight="bold">48. Turkey</text>
<text transform="translate(824.41 602.30) scale(0.9500 1)" font-size="6.6" fill="#262223" font-weight="bold">49. Azerbaijan</text>
<text x="824" y="613.3" font-size="8.6" fill="#a3232e" textLength="114" lengthAdjust="spacingAndGlyphs">gross violations of human rights,</text>
<text x="824" y="621.3" font-size="8.6" fill="#a3232e" textLength="50" lengthAdjust="spacingAndGlyphs">discrimination</text>
<rect x="966" y="69.5" width="10" height="549" fill="url(#sc)"/>
<rect x="963" y="69.2" width="15.5" height="1.1" fill="#3a3a3a"/>
<text x="960.5" y="71.3" font-size="7.8" fill="#555" text-anchor="end">100%</text>
<rect x="963" y="96.7" width="15.5" height="1.1" fill="#3a3a3a"/>
<text x="960.5" y="98.7" font-size="7.8" fill="#555" text-anchor="end">95%</text>
<rect x="963" y="124.1" width="15.5" height="1.1" fill="#3a3a3a"/>
<text x="960.5" y="126.1" font-size="7.8" fill="#555" text-anchor="end">90%</text>
<rect x="963" y="151.5" width="15.5" height="1.1" fill="#3a3a3a"/>
<text x="960.5" y="153.6" font-size="7.8" fill="#555" text-anchor="end">85%</text>
<rect x="963" y="178.9" width="15.5" height="1.1" fill="#3a3a3a"/>
<text x="960.5" y="181.0" font-size="7.8" fill="#555" text-anchor="end">80%</text>
<rect x="963" y="206.4" width="15.5" height="1.1" fill="#3a3a3a"/>
<text x="960.5" y="208.4" font-size="7.8" fill="#555" text-anchor="end">75%</text>
<rect x="963" y="233.8" width="15.5" height="1.1" fill="#3a3a3a"/>
<text x="960.5" y="235.8" font-size="7.8" fill="#555" text-anchor="end">70%</text>
<rect x="963" y="261.2" width="15.5" height="1.1" fill="#3a3a3a"/>
<text x="960.5" y="263.2" font-size="7.8" fill="#555" text-anchor="end">65%</text>
<rect x="963" y="288.6" width="15.5" height="1.1" fill="#3a3a3a"/>
<text x="960.5" y="290.7" font-size="7.8" fill="#555" text-anchor="end">60%</text>
<rect x="963" y="316.0" width="15.5" height="1.1" fill="#3a3a3a"/>
<text x="960.5" y="318.1" font-size="7.8" fill="#555" text-anchor="end">55%</text>
<rect x="963" y="343.5" width="15.5" height="1.1" fill="#3a3a3a"/>
<text x="960.5" y="345.5" font-size="7.8" fill="#555" text-anchor="end">50%</text>
<rect x="963" y="370.9" width="15.5" height="1.1" fill="#3a3a3a"/>
<text x="960.5" y="372.9" font-size="7.8" fill="#555" text-anchor="end">45%</text>
<rect x="963" y="398.3" width="15.5" height="1.1" fill="#3a3a3a"/>
<text x="960.5" y="400.3" font-size="7.8" fill="#555" text-anchor="end">40%</text>
<rect x="963" y="425.7" width="15.5" height="1.1" fill="#3a3a3a"/>
<text x="960.5" y="427.8" font-size="7.8" fill="#555" text-anchor="end">35%</text>
<rect x="963" y="453.1" width="15.5" height="1.1" fill="#3a3a3a"/>
<text x="960.5" y="455.2" font-size="7.8" fill="#555" text-anchor="end">30%</text>
<rect x="963" y="480.6" width="15.5" height="1.1" fill="#3a3a3a"/>
<text x="960.5" y="482.6" font-size="7.8" fill="#555" text-anchor="end">25%</text>
<rect x="963" y="508.0" width="15.5" height="1.1" fill="#3a3a3a"/>
<text x="960.5" y="510.0" font-size="7.8" fill="#555" text-anchor="end">20%</text>
<rect x="963" y="535.4" width="15.5" height="1.1" fill="#3a3a3a"/>
<text x="960.5" y="537.4" font-size="7.8" fill="#555" text-anchor="end">15%</text>
<rect x="963" y="562.8" width="15.5" height="1.1" fill="#3a3a3a"/>
<text x="960.5" y="564.9" font-size="7.8" fill="#555" text-anchor="end">10%</text>
<rect x="963" y="590.2" width="15.5" height="1.1" fill="#3a3a3a"/>
<text x="960.5" y="592.3" font-size="7.8" fill="#555" text-anchor="end">5%</text>
<rect x="963" y="617.7" width="15.5" height="1.1" fill="#3a3a3a"/>
<text x="960.5" y="619.7" font-size="7.8" fill="#555" text-anchor="end">0%</text>
<text x="66.7" y="664.2" font-size="10" fill="#3a3a3a" text-anchor="end" textLength="20" lengthAdjust="spacingAndGlyphs">ILGA</text>
<text x="66.7" y="676.2" font-size="12" fill="#3a3a3a" text-anchor="end" textLength="42.5" lengthAdjust="spacingAndGlyphs">EUROPE</text>
<circle cx="72" cy="657.5" r="1.7" fill="#e5202e"/>
<circle cx="76.6" cy="657.5" r="1.6" fill="#f3901d"/>
<circle cx="81" cy="657.2" r="1.5" fill="#fcd804"/>
<circle cx="85" cy="656.2" r="1.3" fill="#17a77e"/>
<circle cx="88.6" cy="654.3" r="1" fill="#15a4e0"/>
<circle cx="91.8" cy="651.5" r="0.7" fill="#8a4fa3"/>
<circle cx="72" cy="662.8" r="1.7" fill="#e5202e"/>
<circle cx="76.6" cy="662.8" r="1.6" fill="#f3901d"/>
<circle cx="81" cy="662.5" r="1.5" fill="#fcd804"/>
<circle cx="85" cy="661.5" r="1.3" fill="#17a77e"/>
<circle cx="88.6" cy="659.6" r="1" fill="#15a4e0"/>
<circle cx="91.8" cy="656.8" r="0.7" fill="#8a4fa3"/>
<circle cx="72" cy="668.1" r="1.7" fill="#e5202e"/>
<circle cx="76.6" cy="668.1" r="1.6" fill="#f3901d"/>
<circle cx="81" cy="667.8" r="1.5" fill="#fcd804"/>
<circle cx="85" cy="666.8" r="1.3" fill="#17a77e"/>
<circle cx="88.6" cy="664.9" r="1" fill="#15a4e0"/>
<circle cx="91.8" cy="662.1" r="0.7" fill="#8a4fa3"/>
<circle cx="72" cy="673.4" r="1.7" fill="#e5202e"/>
<circle cx="76.6" cy="673.4" r="1.6" fill="#f3901d"/>
<circle cx="81" cy="673.1" r="1.5" fill="#fcd804"/>
<circle cx="85" cy="672.1" r="1.3" fill="#17a77e"/>
<circle cx="88.6" cy="670.2" r="1" fill="#15a4e0"/>
<g fill="#1a1a1a">
<rect x="118.60" y="646.00" width="1.25" height="1.25"/>
<rect x="119.80" y="646.00" width="1.25" height="1.25"/>
<rect x="122.20" y="646.00" width="1.25" height="1.25"/>
<rect x="124.60" y="646.00" width="1.25" height="1.25"/>
<rect x="125.80" y="646.00" width="1.25" height="1.25"/>
<rect x="128.20" y="646.00" width="1.25" height="1.25"/>
<rect x="118.60" y="647.20" width="1.25" height="1.25"/>
<rect x="119.80" y="647.20" width="1.25" height="1.25"/>
<rect x="121.00" y="647.20" width="1.25" height="1.25"/>
<rect x="122.20" y="647.20" width="1.25" height="1.25"/>
<rect x="124.60" y="647.20" width="1.25" height="1.25"/>
<rect x="125.80" y="647.20" width="1.25" height="1.25"/>
<rect x="119.80" y="648.40" width="1.25" height="1.25"/>
<rect x="122.20" y="648.40" width="1.25" height="1.25"/>
<rect x="124.60" y="648.40" width="1.25" height="1.25"/>
<rect x="125.80" y="648.40" width="1.25" height="1.25"/>
<rect x="127.00" y="648.40" width="1.25" height="1.25"/>
<rect x="128.20" y="648.40" width="1.25" height="1.25"/>
<rect x="119.80" y="649.60" width="1.25" height="1.25"/>
<rect x="123.40" y="649.60" width="1.25" height="1.25"/>
<rect x="125.80" y="649.60" width="1.25" height="1.25"/>
<rect x="127.00" y="649.60" width="1.25" height="1.25"/>
<rect x="128.20" y="649.60" width="1.25" height="1.25"/>
<rect x="119.80" y="650.80" width="1.25" height="1.25"/>
<rect x="121.00" y="650.80" width="1.25" height="1.25"/>
<rect x="123.40" y="650.80" width="1.25" height="1.25"/>
<rect x="124.60" y="650.80" width="1.25" height="1.25"/>
<rect x="128.20" y="650.80" width="1.25" height="1.25"/>
<rect x="123.40" y="652.00" width="1.25" height="1.25"/>
<rect x="125.80" y="652.00" width="1.25" height="1.25"/>
<rect x="127.00" y="652.00" width="1.25" height="1.25"/>
<rect x="118.60" y="653.20" width="1.25" height="1.25"/>
<rect x="119.80" y="653.20" width="1.25" height="1.25"/>
<rect x="121.00" y="653.20" width="1.25" height="1.25"/>
<rect x="127.00" y="653.20" width="1.25" height="1.25"/>
<rect x="121.00" y="654.40" width="1.25" height="1.25"/>
<rect x="124.60" y="654.40" width="1.25" height="1.25"/>
<rect x="127.00" y="654.40" width="1.25" height="1.25"/>
<rect x="112.60" y="655.60" width="1.25" height="1.25"/>
<rect x="113.80" y="655.60" width="1.25" height="1.25"/>
<rect x="116.20" y="655.60" width="1.25" height="1.25"/>
<rect x="117.40" y="655.60" width="1.25" height="1.25"/>
<rect x="118.60" y="655.60" width="1.25" height="1.25"/>
<rect x="119.80" y="655.60" width="1.25" height="1.25"/>
<rect x="121.00" y="655.60" width="1.25" height="1.25"/>
<rect x="123.40" y="655.60" width="1.25" height="1.25"/>
<rect x="124.60" y="655.60" width="1.25" height="1.25"/>
<rect x="125.80" y="655.60" width="1.25" height="1.25"/>
<rect x="128.20" y="655.60" width="1.25" height="1.25"/>
<rect x="129.40" y="655.60" width="1.25" height="1.25"/>
<rect x="135.40" y="655.60" width="1.25" height="1.25"/>
<rect x="136.60" y="655.60" width="1.25" height="1.25"/>
<rect x="137.80" y="655.60" width="1.25" height="1.25"/>
<rect x="111.40" y="656.80" width="1.25" height="1.25"/>
<rect x="112.60" y="656.80" width="1.25" height="1.25"/>
<rect x="113.80" y="656.80" width="1.25" height="1.25"/>
<rect x="115.00" y="656.80" width="1.25" height="1.25"/>
<rect x="116.20" y="656.80" width="1.25" height="1.25"/>
<rect x="118.60" y="656.80" width="1.25" height="1.25"/>
<rect x="119.80" y="656.80" width="1.25" height="1.25"/>
<rect x="121.00" y="656.80" width="1.25" height="1.25"/>
<rect x="122.20" y="656.80" width="1.25" height="1.25"/>
<rect x="130.60" y="656.80" width="1.25" height="1.25"/>
<rect x="136.60" y="656.80" width="1.25" height="1.25"/>
<rect x="137.80" y="656.80" width="1.25" height="1.25"/>
<rect x="109.00" y="658.00" width="1.25" height="1.25"/>
<rect x="111.40" y="658.00" width="1.25" height="1.25"/>
<rect x="112.60" y="658.00" width="1.25" height="1.25"/>
<rect x="113.80" y="658.00" width="1.25" height="1.25"/>
<rect x="115.00" y="658.00" width="1.25" height="1.25"/>
<rect x="116.20" y="658.00" width="1.25" height="1.25"/>
<rect x="117.40" y="658.00" width="1.25" height="1.25"/>
<rect x="118.60" y="658.00" width="1.25" height="1.25"/>
<rect x="119.80" y="658.00" width="1.25" height="1.25"/>
<rect x="121.00" y="658.00" width="1.25" height="1.25"/>
<rect x="122.20" y="658.00" width="1.25" height="1.25"/>
<rect x="123.40" y="658.00" width="1.25" height="1.25"/>
<rect x="127.00" y="658.00" width="1.25" height="1.25"/>
<rect x="128.20" y="658.00" width="1.25" height="1.25"/>
<rect x="129.40" y="658.00" width="1.25" height="1.25"/>
<rect x="130.60" y="658.00" width="1.25" height="1.25"/>
<rect x="131.80" y="658.00" width="1.25" height="1.25"/>
<rect x="135.40" y="658.00" width="1.25" height="1.25"/>
<rect x="136.60" y="658.00" width="1.25" height="1.25"/>
<rect x="137.80" y="658.00" width="1.25" height="1.25"/>
<rect x="109.00" y="659.20" width="1.25" height="1.25"/>
<rect x="110.20" y="659.20" width="1.25" height="1.25"/>
<rect x="111.40" y="659.20" width="1.25" height="1.25"/>
<rect x="113.80" y="659.20" width="1.25" height="1.25"/>
<rect x="115.00" y="659.20" width="1.25" height="1.25"/>
<rect x="118.60" y="659.20" width="1.25" height="1.25"/>
<rect x="121.00" y="659.20" width="1.25" height="1.25"/>
<rect x="127.00" y="659.20" width="1.25" height="1.25"/>
<rect x="128.20" y="659.20" width="1.25" height="1.25"/>
<rect x="129.40" y="659.20" width="1.25" height="1.25"/>
<rect x="134.20" y="659.20" width="1.25" height="1.25"/>
<rect x="135.40" y="659.20" width="1.25" height="1.25"/>
<rect x="113.80" y="660.40" width="1.25" height="1.25"/>
<rect x="116.20" y="660.40" width="1.25" height="1.25"/>
<rect x="117.40" y="660.40" width="1.25" height="1.25"/>
<rect x="118.60" y="660.40" width="1.25" height="1.25"/>
<rect x="119.80" y="660.40" width="1.25" height="1.25"/>
<rect x="121.00" y="660.40" width="1.25" height="1.25"/>
<rect x="124.60" y="660.40" width="1.25" height="1.25"/>
<rect x="129.40" y="660.40" width="1.25" height="1.25"/>
<rect x="130.60" y="660.40" width="1.25" height="1.25"/>
<rect x="131.80" y="660.40" width="1.25" height="1.25"/>
<rect x="133.00" y="660.40" width="1.25" height="1.25"/>
<rect x="134.20" y="660.40" width="1.25" height="1.25"/>
<rect x="109.00" y="661.60" width="1.25" height="1.25"/>
<rect x="112.60" y="661.60" width="1.25" height="1.25"/>
<rect x="118.60" y="661.60" width="1.25" height="1.25"/>
<rect x="119.80" y="661.60" width="1.25" height="1.25"/>
<rect x="122.20" y="661.60" width="1.25" height="1.25"/>
<rect x="125.80" y="661.60" width="1.25" height="1.25"/>
<rect x="127.00" y="661.60" width="1.25" height="1.25"/>
<rect x="130.60" y="661.60" width="1.25" height="1.25"/>
<rect x="131.80" y="661.60" width="1.25" height="1.25"/>
<rect x="133.00" y="661.60" width="1.25" height="1.25"/>
<rect x="136.60" y="661.60" width="1.25" height="1.25"/>
<rect x="111.40" y="662.80" width="1.25" height="1.25"/>
<rect x="113.80" y="662.80" width="1.25" height="1.25"/>
<rect x="115.00" y="662.80" width="1.25" height="1.25"/>
<rect x="121.00" y="662.80" width="1.25" height="1.25"/>
<rect x="124.60" y="662.80" width="1.25" height="1.25"/>
<rect x="125.80" y="662.80" width="1.25" height="1.25"/>
<rect x="127.00" y="662.80" width="1.25" height="1.25"/>
<rect x="128.20" y="662.80" width="1.25" height="1.25"/>
<rect x="130.60" y="662.80" width="1.25" height="1.25"/>
<rect x="131.80" y="662.80" width="1.25" height="1.25"/>
<rect x="133.00" y="662.80" width="1.25" height="1.25"/>
<rect x="135.40" y="662.80" width="1.25" height="1.25"/>
<rect x="136.60" y="662.80" width="1.25" height="1.25"/>
<rect x="110.20" y="664.00" width="1.25" height="1.25"/>
<rect x="116.20" y="664.00" width="1.25" height="1.25"/>
<rect x="117.40" y="664.00" width="1.25" height="1.25"/>
<rect x="118.60" y="664.00" width="1.25" height="1.25"/>
<rect x="119.80" y="664.00" width="1.25" height="1.25"/>
<rect x="122.20" y="664.00" width="1.25" height="1.25"/>
<rect x="123.40" y="664.00" width="1.25" height="1.25"/>
<rect x="127.00" y="664.00" width="1.25" height="1.25"/>
<rect x="131.80" y="664.00" width="1.25" height="1.25"/>
<rect x="134.20" y="664.00" width="1.25" height="1.25"/>
<rect x="135.40" y="664.00" width="1.25" height="1.25"/>
<rect x="112.60" y="665.20" width="1.25" height="1.25"/>
<rect x="118.60" y="665.20" width="1.25" height="1.25"/>
<rect x="121.00" y="665.20" width="1.25" height="1.25"/>
<rect x="127.00" y="665.20" width="1.25" height="1.25"/>
<rect x="131.80" y="665.20" width="1.25" height="1.25"/>
<rect x="133.00" y="665.20" width="1.25" height="1.25"/>
<rect x="134.20" y="665.20" width="1.25" height="1.25"/>
<rect x="135.40" y="665.20" width="1.25" height="1.25"/>
<rect x="136.60" y="665.20" width="1.25" height="1.25"/>
<rect x="137.80" y="665.20" width="1.25" height="1.25"/>
<rect x="122.20" y="666.40" width="1.25" height="1.25"/>
<rect x="125.80" y="666.40" width="1.25" height="1.25"/>
<rect x="129.40" y="666.40" width="1.25" height="1.25"/>
<rect x="131.80" y="666.40" width="1.25" height="1.25"/>
<rect x="133.00" y="666.40" width="1.25" height="1.25"/>
<rect x="136.60" y="666.40" width="1.25" height="1.25"/>
<rect x="137.80" y="666.40" width="1.25" height="1.25"/>
<rect x="119.80" y="667.60" width="1.25" height="1.25"/>
<rect x="121.00" y="667.60" width="1.25" height="1.25"/>
<rect x="122.20" y="667.60" width="1.25" height="1.25"/>
<rect x="124.60" y="667.60" width="1.25" height="1.25"/>
<rect x="127.00" y="667.60" width="1.25" height="1.25"/>
<rect x="128.20" y="667.60" width="1.25" height="1.25"/>
<rect x="129.40" y="667.60" width="1.25" height="1.25"/>
<rect x="133.00" y="667.60" width="1.25" height="1.25"/>
<rect x="137.80" y="667.60" width="1.25" height="1.25"/>
<rect x="118.60" y="668.80" width="1.25" height="1.25"/>
<rect x="119.80" y="668.80" width="1.25" height="1.25"/>
<rect x="122.20" y="668.80" width="1.25" height="1.25"/>
<rect x="123.40" y="668.80" width="1.25" height="1.25"/>
<rect x="124.60" y="668.80" width="1.25" height="1.25"/>
<rect x="128.20" y="668.80" width="1.25" height="1.25"/>
<rect x="129.40" y="668.80" width="1.25" height="1.25"/>
<rect x="134.20" y="668.80" width="1.25" height="1.25"/>
<rect x="135.40" y="668.80" width="1.25" height="1.25"/>
<rect x="137.80" y="668.80" width="1.25" height="1.25"/>
<rect x="118.60" y="670.00" width="1.25" height="1.25"/>
<rect x="123.40" y="670.00" width="1.25" height="1.25"/>
<rect x="125.80" y="670.00" width="1.25" height="1.25"/>
<rect x="128.20" y="670.00" width="1.25" height="1.25"/>
<rect x="129.40" y="670.00" width="1.25" height="1.25"/>
<rect x="133.00" y="670.00" width="1.25" height="1.25"/>
<rect x="134.20" y="670.00" width="1.25" height="1.25"/>
<rect x="136.60" y="670.00" width="1.25" height="1.25"/>
<rect x="137.80" y="670.00" width="1.25" height="1.25"/>
<rect x="118.60" y="671.20" width="1.25" height="1.25"/>
<rect x="119.80" y="671.20" width="1.25" height="1.25"/>
<rect x="121.00" y="671.20" width="1.25" height="1.25"/>
<rect x="122.20" y="671.20" width="1.25" height="1.25"/>
<rect x="123.40" y="671.20" width="1.25" height="1.25"/>
<rect x="125.80" y="671.20" width="1.25" height="1.25"/>
<rect x="128.20" y="671.20" width="1.25" height="1.25"/>
<rect x="129.40" y="671.20" width="1.25" height="1.25"/>
<rect x="130.60" y="671.20" width="1.25" height="1.25"/>
<rect x="131.80" y="671.20" width="1.25" height="1.25"/>
<rect x="133.00" y="671.20" width="1.25" height="1.25"/>
<rect x="136.60" y="671.20" width="1.25" height="1.25"/>
<rect x="137.80" y="671.20" width="1.25" height="1.25"/>
<rect x="119.80" y="672.40" width="1.25" height="1.25"/>
<rect x="122.20" y="672.40" width="1.25" height="1.25"/>
<rect x="123.40" y="672.40" width="1.25" height="1.25"/>
<rect x="125.80" y="672.40" width="1.25" height="1.25"/>
<rect x="130.60" y="672.40" width="1.25" height="1.25"/>
<rect x="135.40" y="672.40" width="1.25" height="1.25"/>
<rect x="136.60" y="672.40" width="1.25" height="1.25"/>
<rect x="137.80" y="672.40" width="1.25" height="1.25"/>
<rect x="118.60" y="673.60" width="1.25" height="1.25"/>
<rect x="119.80" y="673.60" width="1.25" height="1.25"/>
<rect x="122.20" y="673.60" width="1.25" height="1.25"/>
<rect x="123.40" y="673.60" width="1.25" height="1.25"/>
<rect x="124.60" y="673.60" width="1.25" height="1.25"/>
<rect x="129.40" y="673.60" width="1.25" height="1.25"/>
<rect x="130.60" y="673.60" width="1.25" height="1.25"/>
<rect x="131.80" y="673.60" width="1.25" height="1.25"/>
<rect x="133.00" y="673.60" width="1.25" height="1.25"/>
<rect x="134.20" y="673.60" width="1.25" height="1.25"/>
<rect x="135.40" y="673.60" width="1.25" height="1.25"/>
<rect x="136.60" y="673.60" width="1.25" height="1.25"/>
<rect x="121.00" y="674.80" width="1.25" height="1.25"/>
<rect x="123.40" y="674.80" width="1.25" height="1.25"/>
<rect x="124.60" y="674.80" width="1.25" height="1.25"/>
<rect x="125.80" y="674.80" width="1.25" height="1.25"/>
<rect x="127.00" y="674.80" width="1.25" height="1.25"/>
<rect x="128.20" y="674.80" width="1.25" height="1.25"/>
<rect x="130.60" y="674.80" width="1.25" height="1.25"/>
<rect x="133.00" y="674.80" width="1.25" height="1.25"/>
<rect x="134.20" y="674.80" width="1.25" height="1.25"/>
<rect x="135.40" y="674.80" width="1.25" height="1.25"/>
<rect x="136.60" y="674.80" width="1.25" height="1.25"/>
<rect x="137.80" y="674.80" width="1.25" height="1.25"/>
<rect x="109.00" y="646.00" width="8.40" height="8.40"/>
<rect x="110.20" y="647.20" width="6.00" height="6.00" fill="#fff"/>
<rect x="111.40" y="648.40" width="3.60" height="3.60"/>
<rect x="130.60" y="646.00" width="8.40" height="8.40"/>
<rect x="131.80" y="647.20" width="6.00" height="6.00" fill="#fff"/>
<rect x="133.00" y="648.40" width="3.60" height="3.60"/>
<rect x="109.00" y="667.60" width="8.40" height="8.40"/>
<rect x="110.20" y="668.80" width="6.00" height="6.00" fill="#fff"/>
<rect x="111.40" y="670.00" width="3.60" height="3.60"/>
</g>
<text x="149" y="666" font-size="9" fill="#262223" textLength="136" lengthAdjust="spacingAndGlyphs">How did we calculate these scores?</text>
<text x="149" y="676.3" font-size="9" fill="#262223" textLength="56" lengthAdjust="spacingAndGlyphs">Have a look at</text>
<text x="207" y="676.3" font-size="9" font-weight="bold" fill="#562583" textLength="97" lengthAdjust="spacingAndGlyphs">www.rainbow-europe.org</text>
<rect x="744" y="648.4" width="43.2" height="28.4" fill="#0b4ea2"/>
<circle cx="765.6" cy="653.1" r="1.15" fill="#f7dc1c"/>
<circle cx="770.4" cy="654.4" r="1.15" fill="#f7dc1c"/>
<circle cx="773.9" cy="657.9" r="1.15" fill="#f7dc1c"/>
<circle cx="775.2" cy="662.7" r="1.15" fill="#f7dc1c"/>
<circle cx="773.9" cy="667.5" r="1.15" fill="#f7dc1c"/>
<circle cx="770.4" cy="671.0" r="1.15" fill="#f7dc1c"/>
<circle cx="765.6" cy="672.3" r="1.15" fill="#f7dc1c"/>
<circle cx="760.8" cy="671.0" r="1.15" fill="#f7dc1c"/>
<circle cx="757.3" cy="667.5" r="1.15" fill="#f7dc1c"/>
<circle cx="756.0" cy="662.7" r="1.15" fill="#f7dc1c"/>
<circle cx="757.3" cy="657.9" r="1.15" fill="#f7dc1c"/>
<circle cx="760.8" cy="654.4" r="1.15" fill="#f7dc1c"/>
<text x="739.8" y="666.7" font-size="5" fill="#555" text-anchor="end" textLength="81" lengthAdjust="spacingAndGlyphs">Co-funded by the Rights Equality and</text>
<text x="739.8" y="671.8" font-size="5" fill="#555" text-anchor="end" textLength="65" lengthAdjust="spacingAndGlyphs">Citizenship (REC) programme</text>
<text x="739.8" y="676.9" font-size="5" fill="#555" text-anchor="end" textLength="77" lengthAdjust="spacingAndGlyphs">2014-2020 of the European Union.</text>
</svg></body></html>
